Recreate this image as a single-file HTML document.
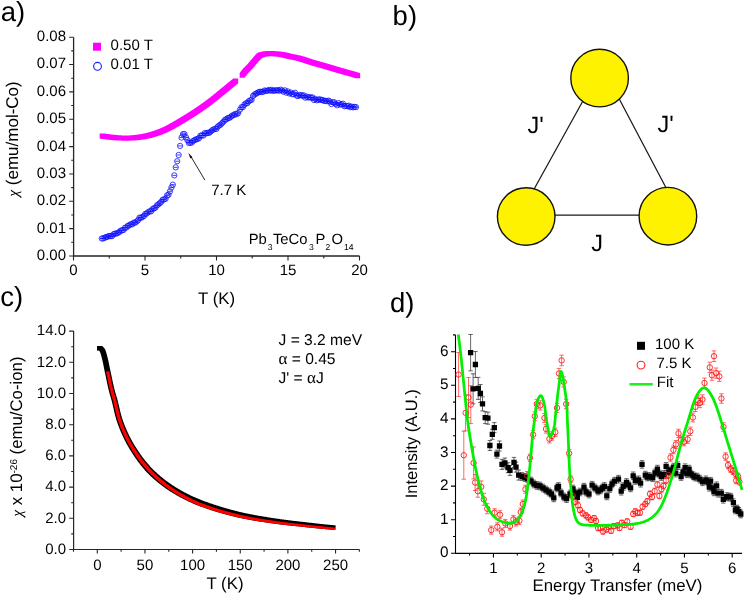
<!DOCTYPE html><html><head><meta charset="utf-8"><style>html,body{margin:0;padding:0;background:#fff;overflow:hidden}svg{display:block}text{font-family:"Liberation Sans",sans-serif;fill:#000;text-rendering:geometricPrecision}svg{will-change:transform}</style></head><body>
<svg width="744" height="596" viewBox="0 0 744 596">
<rect width="744" height="596" fill="#fff"/>
<text x="0.8" y="20.8" font-size="27.5">a)</text>
<text x="392.6" y="25" font-size="27.5">b)</text>
<text x="0.3" y="306.2" font-size="27.5">c)</text>
<text x="390" y="311.8" font-size="27.5">d)</text>
<path d="M73.6,37.2 V256 H359.5" fill="none" stroke="#262626" stroke-width="1.3"/>
<path d="M69.2,256.00H73.6M69.2,228.65H73.6M69.2,201.30H73.6M69.2,173.95H73.6M69.2,146.60H73.6M69.2,119.25H73.6M69.2,91.90H73.6M69.2,64.55H73.6M69.2,37.20H73.6M71.2,242.32H73.6M71.2,214.97H73.6M71.2,187.62H73.6M71.2,160.28H73.6M71.2,132.93H73.6M71.2,105.57H73.6M71.2,78.22H73.6M71.2,50.87H73.6M73.50,256V260.5M145.00,256V260.5M216.50,256V260.5M288.00,256V260.5M359.50,256V260.5M109.25,256V258.6M180.75,256V258.6M252.25,256V258.6M323.75,256V258.6" fill="none" stroke="#262626" stroke-width="1.1"/>
<text x="66" y="259.9" text-anchor="end" font-size="15">0.00</text>
<text x="66" y="232.6" text-anchor="end" font-size="15">0.01</text>
<text x="66" y="205.2" text-anchor="end" font-size="15">0.02</text>
<text x="66" y="177.8" text-anchor="end" font-size="15">0.03</text>
<text x="66" y="150.5" text-anchor="end" font-size="15">0.04</text>
<text x="66" y="123.2" text-anchor="end" font-size="15">0.05</text>
<text x="66" y="95.8" text-anchor="end" font-size="15">0.06</text>
<text x="66" y="68.4" text-anchor="end" font-size="15">0.07</text>
<text x="66" y="41.1" text-anchor="end" font-size="15">0.08</text>
<text x="73.5" y="275.3" text-anchor="middle" font-size="15">0</text>
<text x="145.0" y="275.3" text-anchor="middle" font-size="15">5</text>
<text x="216.5" y="275.3" text-anchor="middle" font-size="15">10</text>
<text x="288.0" y="275.3" text-anchor="middle" font-size="15">15</text>
<text x="359.5" y="275.3" text-anchor="middle" font-size="15">20</text>
<text x="216.6" y="304" text-anchor="middle" font-size="16.8">T (K)</text>
<text transform="translate(17.8,139) rotate(-90)" text-anchor="middle" font-size="17"><tspan font-family="Liberation Serif, serif" font-style="italic" font-size="15.5">χ</tspan> (emu/mol-Co)</text>
<rect x="93" y="42.7" width="8" height="8" fill="#ff00ff"/>
<circle cx="97.5" cy="66.3" r="3.9" fill="none" stroke="#1a1aff" stroke-width="1.1"/>
<text x="110.6" y="49.8" font-size="15">0.50 T</text>
<text x="110.6" y="69.3" font-size="15">0.01 T</text>
<text x="248.7" y="244.4" font-size="14.8">Pb<tspan font-size="8.6" dx="1.0" dy="5.2">3</tspan><tspan dx="0.3" dy="-5.2">TeCo</tspan><tspan font-size="8.6" dx="1.5" dy="5.2">3</tspan><tspan dx="1.7" dy="-5.2">P</tspan><tspan font-size="8.6" dx="0.1" dy="5.2">2</tspan><tspan dx="1.3" dy="-5.2">O</tspan><tspan font-size="8.6" dx="0.9" dy="5.2">14</tspan></text>
<path d="M204.9,180.1 L190.5,155.9" stroke="#111" stroke-width="0.9" fill="none"/>
<path d="M188.3,152.8 L192.5,157.2 L190.3,158.6 Z" fill="#111"/>
<text x="211.2" y="195.0" font-size="15">7.7 K</text>
<path d="M99.65,133.49h5.1v5.1h-5.1zM100.15,133.57h5.1v5.1h-5.1zM100.65,133.65h5.1v5.1h-5.1zM101.15,133.73h5.1v5.1h-5.1zM101.65,133.81h5.1v5.1h-5.1zM102.15,133.88h5.1v5.1h-5.1zM102.65,133.95h5.1v5.1h-5.1zM103.15,134.02h5.1v5.1h-5.1zM103.65,134.10h5.1v5.1h-5.1zM104.15,134.16h5.1v5.1h-5.1zM104.65,134.23h5.1v5.1h-5.1zM105.15,134.30h5.1v5.1h-5.1zM105.65,134.36h5.1v5.1h-5.1zM106.15,134.43h5.1v5.1h-5.1zM106.65,134.49h5.1v5.1h-5.1zM107.15,134.55h5.1v5.1h-5.1zM107.65,134.61h5.1v5.1h-5.1zM108.15,134.66h5.1v5.1h-5.1zM108.65,134.72h5.1v5.1h-5.1zM109.15,134.77h5.1v5.1h-5.1zM109.65,134.82h5.1v5.1h-5.1zM110.15,134.87h5.1v5.1h-5.1zM110.65,134.92h5.1v5.1h-5.1zM111.15,134.97h5.1v5.1h-5.1zM111.65,135.02h5.1v5.1h-5.1zM112.15,135.06h5.1v5.1h-5.1zM112.65,135.10h5.1v5.1h-5.1zM113.15,135.14h5.1v5.1h-5.1zM113.65,135.18h5.1v5.1h-5.1zM114.15,135.22h5.1v5.1h-5.1zM114.65,135.25h5.1v5.1h-5.1zM115.15,135.29h5.1v5.1h-5.1zM115.65,135.32h5.1v5.1h-5.1zM116.15,135.35h5.1v5.1h-5.1zM116.65,135.37h5.1v5.1h-5.1zM117.15,135.40h5.1v5.1h-5.1zM117.65,135.42h5.1v5.1h-5.1zM118.15,135.44h5.1v5.1h-5.1zM118.65,135.46h5.1v5.1h-5.1zM119.15,135.48h5.1v5.1h-5.1zM119.65,135.50h5.1v5.1h-5.1zM120.15,135.51h5.1v5.1h-5.1zM120.65,135.52h5.1v5.1h-5.1zM121.15,135.53h5.1v5.1h-5.1zM121.65,135.54h5.1v5.1h-5.1zM122.15,135.54h5.1v5.1h-5.1zM122.65,135.55h5.1v5.1h-5.1zM123.15,135.55h5.1v5.1h-5.1zM123.65,135.55h5.1v5.1h-5.1zM124.15,135.54h5.1v5.1h-5.1zM124.65,135.54h5.1v5.1h-5.1zM125.15,135.53h5.1v5.1h-5.1zM125.65,135.52h5.1v5.1h-5.1zM126.15,135.51h5.1v5.1h-5.1zM126.65,135.49h5.1v5.1h-5.1zM127.15,135.48h5.1v5.1h-5.1zM127.65,135.46h5.1v5.1h-5.1zM128.15,135.44h5.1v5.1h-5.1zM128.65,135.41h5.1v5.1h-5.1zM129.15,135.39h5.1v5.1h-5.1zM129.65,135.36h5.1v5.1h-5.1zM130.15,135.33h5.1v5.1h-5.1zM130.65,135.29h5.1v5.1h-5.1zM131.15,135.26h5.1v5.1h-5.1zM131.65,135.22h5.1v5.1h-5.1zM132.15,135.18h5.1v5.1h-5.1zM132.65,135.13h5.1v5.1h-5.1zM133.15,135.09h5.1v5.1h-5.1zM133.65,135.04h5.1v5.1h-5.1zM134.15,134.99h5.1v5.1h-5.1zM134.65,134.93h5.1v5.1h-5.1zM135.15,134.88h5.1v5.1h-5.1zM135.65,134.82h5.1v5.1h-5.1zM136.15,134.75h5.1v5.1h-5.1zM136.65,134.69h5.1v5.1h-5.1zM137.15,134.62h5.1v5.1h-5.1zM137.65,134.55h5.1v5.1h-5.1zM138.15,134.48h5.1v5.1h-5.1zM138.65,134.40h5.1v5.1h-5.1zM139.15,134.33h5.1v5.1h-5.1zM139.65,134.25h5.1v5.1h-5.1zM140.15,134.16h5.1v5.1h-5.1zM140.65,134.07h5.1v5.1h-5.1zM141.15,133.99h5.1v5.1h-5.1zM141.65,133.89h5.1v5.1h-5.1zM142.15,133.80h5.1v5.1h-5.1zM142.65,133.70h5.1v5.1h-5.1zM143.15,133.60h5.1v5.1h-5.1zM143.65,133.49h5.1v5.1h-5.1zM144.15,133.39h5.1v5.1h-5.1zM144.65,133.28h5.1v5.1h-5.1zM145.15,133.16h5.1v5.1h-5.1zM145.65,133.05h5.1v5.1h-5.1zM146.15,132.93h5.1v5.1h-5.1zM146.65,132.81h5.1v5.1h-5.1zM147.15,132.68h5.1v5.1h-5.1zM147.65,132.55h5.1v5.1h-5.1zM148.15,132.42h5.1v5.1h-5.1zM148.65,132.28h5.1v5.1h-5.1zM149.15,132.15h5.1v5.1h-5.1zM149.65,132.01h5.1v5.1h-5.1zM150.15,131.86h5.1v5.1h-5.1zM150.65,131.71h5.1v5.1h-5.1zM151.15,131.56h5.1v5.1h-5.1zM151.65,131.41h5.1v5.1h-5.1zM152.15,131.25h5.1v5.1h-5.1zM152.65,131.09h5.1v5.1h-5.1zM153.15,130.93h5.1v5.1h-5.1zM153.65,130.76h5.1v5.1h-5.1zM154.15,130.59h5.1v5.1h-5.1zM154.65,130.41h5.1v5.1h-5.1zM155.15,130.24h5.1v5.1h-5.1zM155.65,130.06h5.1v5.1h-5.1zM156.15,129.87h5.1v5.1h-5.1zM156.65,129.68h5.1v5.1h-5.1zM157.15,129.49h5.1v5.1h-5.1zM157.65,129.30h5.1v5.1h-5.1zM158.15,129.10h5.1v5.1h-5.1zM158.65,128.90h5.1v5.1h-5.1zM159.15,128.69h5.1v5.1h-5.1zM159.65,128.48h5.1v5.1h-5.1zM160.15,128.27h5.1v5.1h-5.1zM160.65,128.05h5.1v5.1h-5.1zM161.15,127.83h5.1v5.1h-5.1zM161.65,127.61h5.1v5.1h-5.1zM162.15,127.38h5.1v5.1h-5.1zM162.65,127.15h5.1v5.1h-5.1zM163.15,126.91h5.1v5.1h-5.1zM163.65,126.68h5.1v5.1h-5.1zM164.15,126.43h5.1v5.1h-5.1zM164.65,126.19h5.1v5.1h-5.1zM165.15,125.94h5.1v5.1h-5.1zM165.65,125.69h5.1v5.1h-5.1zM166.15,125.43h5.1v5.1h-5.1zM166.65,125.18h5.1v5.1h-5.1zM167.15,124.92h5.1v5.1h-5.1zM167.65,124.65h5.1v5.1h-5.1zM168.15,124.39h5.1v5.1h-5.1zM168.65,124.12h5.1v5.1h-5.1zM169.15,123.85h5.1v5.1h-5.1zM169.65,123.57h5.1v5.1h-5.1zM170.15,123.30h5.1v5.1h-5.1zM170.65,123.02h5.1v5.1h-5.1zM171.15,122.74h5.1v5.1h-5.1zM171.65,122.46h5.1v5.1h-5.1zM172.15,122.18h5.1v5.1h-5.1zM172.65,121.89h5.1v5.1h-5.1zM173.15,121.60h5.1v5.1h-5.1zM173.65,121.32h5.1v5.1h-5.1zM174.15,121.03h5.1v5.1h-5.1zM174.65,120.74h5.1v5.1h-5.1zM175.15,120.44h5.1v5.1h-5.1zM175.65,120.15h5.1v5.1h-5.1zM176.15,119.86h5.1v5.1h-5.1zM176.65,119.56h5.1v5.1h-5.1zM177.15,119.27h5.1v5.1h-5.1zM177.65,118.97h5.1v5.1h-5.1zM178.15,118.67h5.1v5.1h-5.1zM178.65,118.37h5.1v5.1h-5.1zM179.15,118.07h5.1v5.1h-5.1zM179.65,117.78h5.1v5.1h-5.1zM180.15,117.48h5.1v5.1h-5.1zM180.65,117.17h5.1v5.1h-5.1zM181.15,116.87h5.1v5.1h-5.1zM181.65,116.57h5.1v5.1h-5.1zM182.15,116.27h5.1v5.1h-5.1zM182.65,115.96h5.1v5.1h-5.1zM183.15,115.66h5.1v5.1h-5.1zM183.65,115.35h5.1v5.1h-5.1zM184.15,115.05h5.1v5.1h-5.1zM184.65,114.74h5.1v5.1h-5.1zM185.15,114.43h5.1v5.1h-5.1zM185.65,114.12h5.1v5.1h-5.1zM186.15,113.81h5.1v5.1h-5.1zM186.65,113.50h5.1v5.1h-5.1zM187.15,113.18h5.1v5.1h-5.1zM187.65,112.87h5.1v5.1h-5.1zM188.15,112.55h5.1v5.1h-5.1zM188.65,112.24h5.1v5.1h-5.1zM189.15,111.92h5.1v5.1h-5.1zM189.65,111.60h5.1v5.1h-5.1zM190.15,111.28h5.1v5.1h-5.1zM190.65,110.96h5.1v5.1h-5.1zM191.15,110.63h5.1v5.1h-5.1zM191.65,110.31h5.1v5.1h-5.1zM192.15,109.98h5.1v5.1h-5.1zM192.65,109.66h5.1v5.1h-5.1zM193.15,109.33h5.1v5.1h-5.1zM193.65,109.00h5.1v5.1h-5.1zM194.15,108.67h5.1v5.1h-5.1zM194.65,108.33h5.1v5.1h-5.1zM195.15,108.00h5.1v5.1h-5.1zM195.65,107.66h5.1v5.1h-5.1zM196.15,107.33h5.1v5.1h-5.1zM196.65,106.99h5.1v5.1h-5.1zM197.15,106.65h5.1v5.1h-5.1zM197.65,106.30h5.1v5.1h-5.1zM198.15,105.96h5.1v5.1h-5.1zM198.65,105.61h5.1v5.1h-5.1zM199.15,105.26h5.1v5.1h-5.1zM199.65,104.92h5.1v5.1h-5.1zM200.15,104.56h5.1v5.1h-5.1zM200.65,104.21h5.1v5.1h-5.1zM201.15,103.86h5.1v5.1h-5.1zM201.65,103.50h5.1v5.1h-5.1zM202.15,103.14h5.1v5.1h-5.1zM202.65,102.78h5.1v5.1h-5.1zM203.15,102.42h5.1v5.1h-5.1zM203.65,102.05h5.1v5.1h-5.1zM204.15,101.69h5.1v5.1h-5.1zM204.65,101.32h5.1v5.1h-5.1zM205.15,100.95h5.1v5.1h-5.1zM205.65,100.57h5.1v5.1h-5.1zM206.15,100.20h5.1v5.1h-5.1zM206.65,99.82h5.1v5.1h-5.1zM207.15,99.44h5.1v5.1h-5.1zM207.65,99.06h5.1v5.1h-5.1zM208.15,98.68h5.1v5.1h-5.1zM208.65,98.29h5.1v5.1h-5.1zM209.15,97.91h5.1v5.1h-5.1zM209.65,97.52h5.1v5.1h-5.1zM210.15,97.13h5.1v5.1h-5.1zM210.65,96.73h5.1v5.1h-5.1zM211.15,96.34h5.1v5.1h-5.1zM211.65,95.94h5.1v5.1h-5.1zM212.15,95.54h5.1v5.1h-5.1zM212.65,95.14h5.1v5.1h-5.1zM213.15,94.74h5.1v5.1h-5.1zM213.65,94.34h5.1v5.1h-5.1zM214.15,93.94h5.1v5.1h-5.1zM214.65,93.53h5.1v5.1h-5.1zM215.15,93.13h5.1v5.1h-5.1zM215.65,92.72h5.1v5.1h-5.1zM216.15,92.31h5.1v5.1h-5.1zM216.65,91.90h5.1v5.1h-5.1zM217.15,91.50h5.1v5.1h-5.1zM217.65,91.09h5.1v5.1h-5.1zM218.15,90.68h5.1v5.1h-5.1zM218.65,90.26h5.1v5.1h-5.1zM219.15,89.85h5.1v5.1h-5.1zM219.65,89.44h5.1v5.1h-5.1zM220.15,89.03h5.1v5.1h-5.1zM220.65,88.62h5.1v5.1h-5.1zM221.15,88.21h5.1v5.1h-5.1zM221.65,87.79h5.1v5.1h-5.1zM222.15,87.38h5.1v5.1h-5.1zM222.65,86.97h5.1v5.1h-5.1zM223.15,86.56h5.1v5.1h-5.1zM223.65,86.14h5.1v5.1h-5.1zM224.15,85.73h5.1v5.1h-5.1zM224.65,85.32h5.1v5.1h-5.1zM225.15,84.91h5.1v5.1h-5.1zM225.65,84.50h5.1v5.1h-5.1zM226.15,84.09h5.1v5.1h-5.1zM226.65,83.68h5.1v5.1h-5.1zM227.15,83.28h5.1v5.1h-5.1zM227.65,82.87h5.1v5.1h-5.1zM228.15,82.46h5.1v5.1h-5.1zM228.65,82.06h5.1v5.1h-5.1zM229.15,81.66h5.1v5.1h-5.1zM229.65,81.25h5.1v5.1h-5.1zM230.15,80.85h5.1v5.1h-5.1zM230.65,80.45h5.1v5.1h-5.1zM231.15,80.05h5.1v5.1h-5.1zM231.65,79.66h5.1v5.1h-5.1zM232.15,79.26h5.1v5.1h-5.1zM232.65,78.87h5.1v5.1h-5.1zM233.05,78.55h5.1v5.1h-5.1z" fill="#ff00ff"/>
<path d="M239.65,72.75h5.1v5.1h-5.1zM240.15,72.04h5.1v5.1h-5.1zM240.65,71.35h5.1v5.1h-5.1zM241.15,70.68h5.1v5.1h-5.1zM241.65,70.03h5.1v5.1h-5.1zM242.15,69.41h5.1v5.1h-5.1zM242.65,68.82h5.1v5.1h-5.1zM243.15,68.26h5.1v5.1h-5.1zM243.65,67.72h5.1v5.1h-5.1zM244.15,67.21h5.1v5.1h-5.1zM244.65,66.70h5.1v5.1h-5.1zM245.15,66.21h5.1v5.1h-5.1zM245.65,65.71h5.1v5.1h-5.1zM246.15,65.21h5.1v5.1h-5.1zM246.65,64.70h5.1v5.1h-5.1zM247.15,64.18h5.1v5.1h-5.1zM247.65,63.63h5.1v5.1h-5.1zM248.15,63.06h5.1v5.1h-5.1zM248.65,62.48h5.1v5.1h-5.1zM249.15,61.89h5.1v5.1h-5.1zM249.65,61.29h5.1v5.1h-5.1zM250.15,60.69h5.1v5.1h-5.1zM250.65,60.09h5.1v5.1h-5.1zM251.15,59.48h5.1v5.1h-5.1zM251.65,58.89h5.1v5.1h-5.1zM252.15,58.30h5.1v5.1h-5.1zM252.65,57.72h5.1v5.1h-5.1zM253.15,57.13h5.1v5.1h-5.1zM253.65,56.53h5.1v5.1h-5.1zM254.15,55.95h5.1v5.1h-5.1zM254.65,55.38h5.1v5.1h-5.1zM255.15,54.85h5.1v5.1h-5.1zM255.65,54.35h5.1v5.1h-5.1zM256.15,53.86h5.1v5.1h-5.1zM256.65,53.39h5.1v5.1h-5.1zM257.15,53.01h5.1v5.1h-5.1zM257.65,52.76h5.1v5.1h-5.1zM258.15,52.55h5.1v5.1h-5.1zM258.65,52.36h5.1v5.1h-5.1zM259.15,52.19h5.1v5.1h-5.1zM259.65,52.03h5.1v5.1h-5.1zM260.15,51.89h5.1v5.1h-5.1zM260.65,51.77h5.1v5.1h-5.1zM261.15,51.66h5.1v5.1h-5.1zM261.65,51.57h5.1v5.1h-5.1zM262.15,51.49h5.1v5.1h-5.1zM262.65,51.43h5.1v5.1h-5.1zM263.15,51.36h5.1v5.1h-5.1zM263.65,51.31h5.1v5.1h-5.1zM264.15,51.25h5.1v5.1h-5.1zM264.65,51.20h5.1v5.1h-5.1zM265.15,51.15h5.1v5.1h-5.1zM265.65,51.12h5.1v5.1h-5.1zM266.15,51.09h5.1v5.1h-5.1zM266.65,51.06h5.1v5.1h-5.1zM267.15,51.05h5.1v5.1h-5.1zM267.65,51.05h5.1v5.1h-5.1zM268.15,51.06h5.1v5.1h-5.1zM268.65,51.06h5.1v5.1h-5.1zM269.15,51.08h5.1v5.1h-5.1zM269.65,51.10h5.1v5.1h-5.1zM270.15,51.12h5.1v5.1h-5.1zM270.65,51.15h5.1v5.1h-5.1zM271.15,51.18h5.1v5.1h-5.1zM271.65,51.21h5.1v5.1h-5.1zM272.15,51.25h5.1v5.1h-5.1zM272.65,51.28h5.1v5.1h-5.1zM273.15,51.33h5.1v5.1h-5.1zM273.65,51.37h5.1v5.1h-5.1zM274.15,51.42h5.1v5.1h-5.1zM274.65,51.46h5.1v5.1h-5.1zM275.15,51.51h5.1v5.1h-5.1zM275.65,51.56h5.1v5.1h-5.1zM276.15,51.61h5.1v5.1h-5.1zM276.65,51.67h5.1v5.1h-5.1zM277.15,51.72h5.1v5.1h-5.1zM277.65,51.77h5.1v5.1h-5.1zM278.15,51.83h5.1v5.1h-5.1zM278.65,51.90h5.1v5.1h-5.1zM279.15,51.98h5.1v5.1h-5.1zM279.65,52.07h5.1v5.1h-5.1zM280.15,52.16h5.1v5.1h-5.1zM280.65,52.26h5.1v5.1h-5.1zM281.15,52.37h5.1v5.1h-5.1zM281.65,52.48h5.1v5.1h-5.1zM282.15,52.59h5.1v5.1h-5.1zM282.65,52.71h5.1v5.1h-5.1zM283.15,52.83h5.1v5.1h-5.1zM283.65,52.95h5.1v5.1h-5.1zM284.15,53.07h5.1v5.1h-5.1zM284.65,53.20h5.1v5.1h-5.1zM285.15,53.32h5.1v5.1h-5.1zM285.65,53.44h5.1v5.1h-5.1zM286.15,53.56h5.1v5.1h-5.1zM286.65,53.67h5.1v5.1h-5.1zM287.15,53.78h5.1v5.1h-5.1zM287.65,53.89h5.1v5.1h-5.1zM288.15,54.00h5.1v5.1h-5.1zM288.65,54.10h5.1v5.1h-5.1zM289.15,54.21h5.1v5.1h-5.1zM289.65,54.31h5.1v5.1h-5.1zM290.15,54.41h5.1v5.1h-5.1zM290.65,54.52h5.1v5.1h-5.1zM291.15,54.62h5.1v5.1h-5.1zM291.65,54.73h5.1v5.1h-5.1zM292.15,54.83h5.1v5.1h-5.1zM292.65,54.93h5.1v5.1h-5.1zM293.15,55.04h5.1v5.1h-5.1zM293.65,55.15h5.1v5.1h-5.1zM294.15,55.26h5.1v5.1h-5.1zM294.65,55.37h5.1v5.1h-5.1zM295.15,55.49h5.1v5.1h-5.1zM295.65,55.60h5.1v5.1h-5.1zM296.15,55.72h5.1v5.1h-5.1zM296.65,55.85h5.1v5.1h-5.1zM297.15,55.97h5.1v5.1h-5.1zM297.65,56.10h5.1v5.1h-5.1zM298.15,56.24h5.1v5.1h-5.1zM298.65,56.38h5.1v5.1h-5.1zM299.15,56.53h5.1v5.1h-5.1zM299.65,56.68h5.1v5.1h-5.1zM300.15,56.84h5.1v5.1h-5.1zM300.65,57.00h5.1v5.1h-5.1zM301.15,57.16h5.1v5.1h-5.1zM301.65,57.33h5.1v5.1h-5.1zM302.15,57.49h5.1v5.1h-5.1zM302.65,57.66h5.1v5.1h-5.1zM303.15,57.83h5.1v5.1h-5.1zM303.65,58.00h5.1v5.1h-5.1zM304.15,58.17h5.1v5.1h-5.1zM304.65,58.34h5.1v5.1h-5.1zM305.15,58.51h5.1v5.1h-5.1zM305.65,58.68h5.1v5.1h-5.1zM306.15,58.84h5.1v5.1h-5.1zM306.65,59.00h5.1v5.1h-5.1zM307.15,59.16h5.1v5.1h-5.1zM307.65,59.31h5.1v5.1h-5.1zM308.15,59.46h5.1v5.1h-5.1zM308.65,59.61h5.1v5.1h-5.1zM309.15,59.76h5.1v5.1h-5.1zM309.65,59.91h5.1v5.1h-5.1zM310.15,60.06h5.1v5.1h-5.1zM310.65,60.20h5.1v5.1h-5.1zM311.15,60.35h5.1v5.1h-5.1zM311.65,60.49h5.1v5.1h-5.1zM312.15,60.64h5.1v5.1h-5.1zM312.65,60.78h5.1v5.1h-5.1zM313.15,60.93h5.1v5.1h-5.1zM313.65,61.07h5.1v5.1h-5.1zM314.15,61.21h5.1v5.1h-5.1zM314.65,61.35h5.1v5.1h-5.1zM315.15,61.50h5.1v5.1h-5.1zM315.65,61.64h5.1v5.1h-5.1zM316.15,61.78h5.1v5.1h-5.1zM316.65,61.92h5.1v5.1h-5.1zM317.15,62.06h5.1v5.1h-5.1zM317.65,62.21h5.1v5.1h-5.1zM318.15,62.35h5.1v5.1h-5.1zM318.65,62.49h5.1v5.1h-5.1zM319.15,62.63h5.1v5.1h-5.1zM319.65,62.76h5.1v5.1h-5.1zM320.15,62.90h5.1v5.1h-5.1zM320.65,63.04h5.1v5.1h-5.1zM321.15,63.18h5.1v5.1h-5.1zM321.65,63.32h5.1v5.1h-5.1zM322.15,63.46h5.1v5.1h-5.1zM322.65,63.61h5.1v5.1h-5.1zM323.15,63.75h5.1v5.1h-5.1zM323.65,63.90h5.1v5.1h-5.1zM324.15,64.05h5.1v5.1h-5.1zM324.65,64.20h5.1v5.1h-5.1zM325.15,64.35h5.1v5.1h-5.1zM325.65,64.50h5.1v5.1h-5.1zM326.15,64.65h5.1v5.1h-5.1zM326.65,64.80h5.1v5.1h-5.1zM327.15,64.95h5.1v5.1h-5.1zM327.65,65.10h5.1v5.1h-5.1zM328.15,65.26h5.1v5.1h-5.1zM328.65,65.41h5.1v5.1h-5.1zM329.15,65.56h5.1v5.1h-5.1zM329.65,65.71h5.1v5.1h-5.1zM330.15,65.86h5.1v5.1h-5.1zM330.65,66.01h5.1v5.1h-5.1zM331.15,66.16h5.1v5.1h-5.1zM331.65,66.31h5.1v5.1h-5.1zM332.15,66.46h5.1v5.1h-5.1zM332.65,66.61h5.1v5.1h-5.1zM333.15,66.76h5.1v5.1h-5.1zM333.65,66.90h5.1v5.1h-5.1zM334.15,67.05h5.1v5.1h-5.1zM334.65,67.20h5.1v5.1h-5.1zM335.15,67.34h5.1v5.1h-5.1zM335.65,67.49h5.1v5.1h-5.1zM336.15,67.63h5.1v5.1h-5.1zM336.65,67.78h5.1v5.1h-5.1zM337.15,67.93h5.1v5.1h-5.1zM337.65,68.07h5.1v5.1h-5.1zM338.15,68.22h5.1v5.1h-5.1zM338.65,68.36h5.1v5.1h-5.1zM339.15,68.50h5.1v5.1h-5.1zM339.65,68.65h5.1v5.1h-5.1zM340.15,68.79h5.1v5.1h-5.1zM340.65,68.94h5.1v5.1h-5.1zM341.15,69.08h5.1v5.1h-5.1zM341.65,69.22h5.1v5.1h-5.1zM342.15,69.36h5.1v5.1h-5.1zM342.65,69.51h5.1v5.1h-5.1zM343.15,69.65h5.1v5.1h-5.1zM343.65,69.79h5.1v5.1h-5.1zM344.15,69.92h5.1v5.1h-5.1zM344.65,70.06h5.1v5.1h-5.1zM345.15,70.19h5.1v5.1h-5.1zM345.65,70.33h5.1v5.1h-5.1zM346.15,70.46h5.1v5.1h-5.1zM346.65,70.60h5.1v5.1h-5.1zM347.15,70.73h5.1v5.1h-5.1zM347.65,70.87h5.1v5.1h-5.1zM348.15,71.00h5.1v5.1h-5.1zM348.65,71.14h5.1v5.1h-5.1zM349.15,71.28h5.1v5.1h-5.1zM349.65,71.42h5.1v5.1h-5.1zM350.15,71.56h5.1v5.1h-5.1zM350.65,71.70h5.1v5.1h-5.1zM351.15,71.85h5.1v5.1h-5.1zM351.65,72.00h5.1v5.1h-5.1zM352.15,72.16h5.1v5.1h-5.1zM352.65,72.31h5.1v5.1h-5.1zM353.15,72.48h5.1v5.1h-5.1zM353.65,72.65h5.1v5.1h-5.1zM354.15,72.83h5.1v5.1h-5.1zM354.65,73.01h5.1v5.1h-5.1zM355.05,73.15h5.1v5.1h-5.1z" fill="#ff00ff"/>
<path d="M99.15,238.50a2.65,2.65 0 1 0 5.3,0a2.65,2.65 0 1 0 -5.3,0M99.75,238.50h4.10M100.60,238.44a2.65,2.65 0 1 0 5.3,0a2.65,2.65 0 1 0 -5.3,0M101.20,238.44h4.10M102.05,237.75a2.65,2.65 0 1 0 5.3,0a2.65,2.65 0 1 0 -5.3,0M102.65,237.75h4.10M103.50,236.98a2.65,2.65 0 1 0 5.3,0a2.65,2.65 0 1 0 -5.3,0M104.10,236.98h4.10M104.95,236.81a2.65,2.65 0 1 0 5.3,0a2.65,2.65 0 1 0 -5.3,0M105.55,236.81h4.10M106.40,235.93a2.65,2.65 0 1 0 5.3,0a2.65,2.65 0 1 0 -5.3,0M107.00,235.93h4.10M107.85,236.04a2.65,2.65 0 1 0 5.3,0a2.65,2.65 0 1 0 -5.3,0M108.45,236.04h4.10M109.30,236.22a2.65,2.65 0 1 0 5.3,0a2.65,2.65 0 1 0 -5.3,0M109.90,236.22h4.10M110.75,234.34a2.65,2.65 0 1 0 5.3,0a2.65,2.65 0 1 0 -5.3,0M111.35,234.34h4.10M112.20,233.57a2.65,2.65 0 1 0 5.3,0a2.65,2.65 0 1 0 -5.3,0M112.80,233.57h4.10M113.65,233.64a2.65,2.65 0 1 0 5.3,0a2.65,2.65 0 1 0 -5.3,0M114.25,233.64h4.10M115.10,232.91a2.65,2.65 0 1 0 5.3,0a2.65,2.65 0 1 0 -5.3,0M115.70,232.91h4.10M116.55,232.07a2.65,2.65 0 1 0 5.3,0a2.65,2.65 0 1 0 -5.3,0M117.15,232.07h4.10M118.00,230.64a2.65,2.65 0 1 0 5.3,0a2.65,2.65 0 1 0 -5.3,0M118.60,230.64h4.10M119.45,230.37a2.65,2.65 0 1 0 5.3,0a2.65,2.65 0 1 0 -5.3,0M120.05,230.37h4.10M120.90,229.93a2.65,2.65 0 1 0 5.3,0a2.65,2.65 0 1 0 -5.3,0M121.50,229.93h4.10M122.35,227.73a2.65,2.65 0 1 0 5.3,0a2.65,2.65 0 1 0 -5.3,0M122.95,227.73h4.10M123.80,227.49a2.65,2.65 0 1 0 5.3,0a2.65,2.65 0 1 0 -5.3,0M124.40,227.49h4.10M125.25,225.75a2.65,2.65 0 1 0 5.3,0a2.65,2.65 0 1 0 -5.3,0M125.85,225.75h4.10M126.70,225.34a2.65,2.65 0 1 0 5.3,0a2.65,2.65 0 1 0 -5.3,0M127.30,225.34h4.10M128.15,224.13a2.65,2.65 0 1 0 5.3,0a2.65,2.65 0 1 0 -5.3,0M128.75,224.13h4.10M129.60,224.28a2.65,2.65 0 1 0 5.3,0a2.65,2.65 0 1 0 -5.3,0M130.20,224.28h4.10M131.05,222.68a2.65,2.65 0 1 0 5.3,0a2.65,2.65 0 1 0 -5.3,0M131.65,222.68h4.10M132.50,222.68a2.65,2.65 0 1 0 5.3,0a2.65,2.65 0 1 0 -5.3,0M133.10,222.68h4.10M133.95,221.56a2.65,2.65 0 1 0 5.3,0a2.65,2.65 0 1 0 -5.3,0M134.55,221.56h4.10M135.40,220.25a2.65,2.65 0 1 0 5.3,0a2.65,2.65 0 1 0 -5.3,0M136.00,220.25h4.10M136.85,217.64a2.65,2.65 0 1 0 5.3,0a2.65,2.65 0 1 0 -5.3,0M137.45,217.64h4.10M138.30,217.83a2.65,2.65 0 1 0 5.3,0a2.65,2.65 0 1 0 -5.3,0M138.90,217.83h4.10M139.75,217.04a2.65,2.65 0 1 0 5.3,0a2.65,2.65 0 1 0 -5.3,0M140.35,217.04h4.10M141.20,216.04a2.65,2.65 0 1 0 5.3,0a2.65,2.65 0 1 0 -5.3,0M141.80,216.04h4.10M142.65,213.88a2.65,2.65 0 1 0 5.3,0a2.65,2.65 0 1 0 -5.3,0M143.25,213.88h4.10M144.10,213.53a2.65,2.65 0 1 0 5.3,0a2.65,2.65 0 1 0 -5.3,0M144.70,213.53h4.10M145.55,212.18a2.65,2.65 0 1 0 5.3,0a2.65,2.65 0 1 0 -5.3,0M146.15,212.18h4.10M147.00,211.24a2.65,2.65 0 1 0 5.3,0a2.65,2.65 0 1 0 -5.3,0M147.60,211.24h4.10M148.45,211.35a2.65,2.65 0 1 0 5.3,0a2.65,2.65 0 1 0 -5.3,0M149.05,211.35h4.10M149.90,209.00a2.65,2.65 0 1 0 5.3,0a2.65,2.65 0 1 0 -5.3,0M150.50,209.00h4.10M151.35,208.32a2.65,2.65 0 1 0 5.3,0a2.65,2.65 0 1 0 -5.3,0M151.95,208.32h4.10M152.80,207.68a2.65,2.65 0 1 0 5.3,0a2.65,2.65 0 1 0 -5.3,0M153.40,207.68h4.10M154.25,205.41a2.65,2.65 0 1 0 5.3,0a2.65,2.65 0 1 0 -5.3,0M154.85,205.41h4.10M155.70,204.35a2.65,2.65 0 1 0 5.3,0a2.65,2.65 0 1 0 -5.3,0M156.30,204.35h4.10M157.15,203.15a2.65,2.65 0 1 0 5.3,0a2.65,2.65 0 1 0 -5.3,0M157.75,203.15h4.10M158.60,201.86a2.65,2.65 0 1 0 5.3,0a2.65,2.65 0 1 0 -5.3,0M159.20,201.86h4.10M160.05,199.80a2.65,2.65 0 1 0 5.3,0a2.65,2.65 0 1 0 -5.3,0M160.65,199.80h4.10M161.50,199.37a2.65,2.65 0 1 0 5.3,0a2.65,2.65 0 1 0 -5.3,0M162.10,199.37h4.10M162.95,198.79a2.65,2.65 0 1 0 5.3,0a2.65,2.65 0 1 0 -5.3,0M163.55,198.79h4.10M164.40,195.35a2.65,2.65 0 1 0 5.3,0a2.65,2.65 0 1 0 -5.3,0M165.00,195.35h4.10M165.85,194.84a2.65,2.65 0 1 0 5.3,0a2.65,2.65 0 1 0 -5.3,0M166.45,194.84h4.10M167.30,191.34a2.65,2.65 0 1 0 5.3,0a2.65,2.65 0 1 0 -5.3,0M167.90,191.34h4.10M168.75,187.54a2.65,2.65 0 1 0 5.3,0a2.65,2.65 0 1 0 -5.3,0M169.35,187.54h4.10M170.20,184.68a2.65,2.65 0 1 0 5.3,0a2.65,2.65 0 1 0 -5.3,0M170.80,184.68h4.10M171.65,175.38a2.65,2.65 0 1 0 5.3,0a2.65,2.65 0 1 0 -5.3,0M172.25,175.38h4.10M173.10,167.35a2.65,2.65 0 1 0 5.3,0a2.65,2.65 0 1 0 -5.3,0M173.70,167.35h4.10M174.55,161.24a2.65,2.65 0 1 0 5.3,0a2.65,2.65 0 1 0 -5.3,0M175.15,161.24h4.10M176.00,154.97a2.65,2.65 0 1 0 5.3,0a2.65,2.65 0 1 0 -5.3,0M176.60,154.97h4.10M177.45,145.91a2.65,2.65 0 1 0 5.3,0a2.65,2.65 0 1 0 -5.3,0M178.05,145.91h4.10M178.90,137.59a2.65,2.65 0 1 0 5.3,0a2.65,2.65 0 1 0 -5.3,0M179.50,137.59h4.10M180.35,134.12a2.65,2.65 0 1 0 5.3,0a2.65,2.65 0 1 0 -5.3,0M180.95,134.12h4.10M181.80,134.02a2.65,2.65 0 1 0 5.3,0a2.65,2.65 0 1 0 -5.3,0M182.40,134.02h4.10M183.25,137.29a2.65,2.65 0 1 0 5.3,0a2.65,2.65 0 1 0 -5.3,0M183.85,137.29h4.10M184.70,140.07a2.65,2.65 0 1 0 5.3,0a2.65,2.65 0 1 0 -5.3,0M185.30,140.07h4.10M186.15,142.93a2.65,2.65 0 1 0 5.3,0a2.65,2.65 0 1 0 -5.3,0M186.75,142.93h4.10M187.60,142.79a2.65,2.65 0 1 0 5.3,0a2.65,2.65 0 1 0 -5.3,0M188.20,142.79h4.10M189.05,142.58a2.65,2.65 0 1 0 5.3,0a2.65,2.65 0 1 0 -5.3,0M189.65,142.58h4.10M190.50,140.90a2.65,2.65 0 1 0 5.3,0a2.65,2.65 0 1 0 -5.3,0M191.10,140.90h4.10M191.95,140.12a2.65,2.65 0 1 0 5.3,0a2.65,2.65 0 1 0 -5.3,0M192.55,140.12h4.10M193.40,139.32a2.65,2.65 0 1 0 5.3,0a2.65,2.65 0 1 0 -5.3,0M194.00,139.32h4.10M194.85,139.00a2.65,2.65 0 1 0 5.3,0a2.65,2.65 0 1 0 -5.3,0M195.45,139.00h4.10M196.30,138.18a2.65,2.65 0 1 0 5.3,0a2.65,2.65 0 1 0 -5.3,0M196.90,138.18h4.10M197.75,135.71a2.65,2.65 0 1 0 5.3,0a2.65,2.65 0 1 0 -5.3,0M198.35,135.71h4.10M199.20,135.31a2.65,2.65 0 1 0 5.3,0a2.65,2.65 0 1 0 -5.3,0M199.80,135.31h4.10M200.65,135.56a2.65,2.65 0 1 0 5.3,0a2.65,2.65 0 1 0 -5.3,0M201.25,135.56h4.10M202.10,133.13a2.65,2.65 0 1 0 5.3,0a2.65,2.65 0 1 0 -5.3,0M202.70,133.13h4.10M203.55,133.37a2.65,2.65 0 1 0 5.3,0a2.65,2.65 0 1 0 -5.3,0M204.15,133.37h4.10M205.00,132.82a2.65,2.65 0 1 0 5.3,0a2.65,2.65 0 1 0 -5.3,0M205.60,132.82h4.10M206.45,132.91a2.65,2.65 0 1 0 5.3,0a2.65,2.65 0 1 0 -5.3,0M207.05,132.91h4.10M207.90,131.76a2.65,2.65 0 1 0 5.3,0a2.65,2.65 0 1 0 -5.3,0M208.50,131.76h4.10M209.35,130.35a2.65,2.65 0 1 0 5.3,0a2.65,2.65 0 1 0 -5.3,0M209.95,130.35h4.10M210.80,129.57a2.65,2.65 0 1 0 5.3,0a2.65,2.65 0 1 0 -5.3,0M211.40,129.57h4.10M212.25,128.80a2.65,2.65 0 1 0 5.3,0a2.65,2.65 0 1 0 -5.3,0M212.85,128.80h4.10M213.70,128.95a2.65,2.65 0 1 0 5.3,0a2.65,2.65 0 1 0 -5.3,0M214.30,128.95h4.10M215.15,126.55a2.65,2.65 0 1 0 5.3,0a2.65,2.65 0 1 0 -5.3,0M215.75,126.55h4.10M216.60,125.43a2.65,2.65 0 1 0 5.3,0a2.65,2.65 0 1 0 -5.3,0M217.20,125.43h4.10M218.05,124.63a2.65,2.65 0 1 0 5.3,0a2.65,2.65 0 1 0 -5.3,0M218.65,124.63h4.10M219.50,122.99a2.65,2.65 0 1 0 5.3,0a2.65,2.65 0 1 0 -5.3,0M220.10,122.99h4.10M220.95,121.59a2.65,2.65 0 1 0 5.3,0a2.65,2.65 0 1 0 -5.3,0M221.55,121.59h4.10M222.40,119.74a2.65,2.65 0 1 0 5.3,0a2.65,2.65 0 1 0 -5.3,0M223.00,119.74h4.10M223.85,119.29a2.65,2.65 0 1 0 5.3,0a2.65,2.65 0 1 0 -5.3,0M224.45,119.29h4.10M225.30,117.90a2.65,2.65 0 1 0 5.3,0a2.65,2.65 0 1 0 -5.3,0M225.90,117.90h4.10M226.75,117.94a2.65,2.65 0 1 0 5.3,0a2.65,2.65 0 1 0 -5.3,0M227.35,117.94h4.10M228.20,116.72a2.65,2.65 0 1 0 5.3,0a2.65,2.65 0 1 0 -5.3,0M228.80,116.72h4.10M229.65,115.46a2.65,2.65 0 1 0 5.3,0a2.65,2.65 0 1 0 -5.3,0M230.25,115.46h4.10M231.10,115.18a2.65,2.65 0 1 0 5.3,0a2.65,2.65 0 1 0 -5.3,0M231.70,115.18h4.10M232.55,113.90a2.65,2.65 0 1 0 5.3,0a2.65,2.65 0 1 0 -5.3,0M233.15,113.90h4.10M234.00,114.26a2.65,2.65 0 1 0 5.3,0a2.65,2.65 0 1 0 -5.3,0M234.60,114.26h4.10M235.45,113.11a2.65,2.65 0 1 0 5.3,0a2.65,2.65 0 1 0 -5.3,0M236.05,113.11h4.10M237.35,109.68a2.65,2.65 0 1 0 5.3,0a2.65,2.65 0 1 0 -5.3,0M237.95,109.68h4.10M238.80,107.24a2.65,2.65 0 1 0 5.3,0a2.65,2.65 0 1 0 -5.3,0M239.40,107.24h4.10M240.25,107.11a2.65,2.65 0 1 0 5.3,0a2.65,2.65 0 1 0 -5.3,0M240.85,107.11h4.10M241.70,104.65a2.65,2.65 0 1 0 5.3,0a2.65,2.65 0 1 0 -5.3,0M242.30,104.65h4.10M243.15,103.30a2.65,2.65 0 1 0 5.3,0a2.65,2.65 0 1 0 -5.3,0M243.75,103.30h4.10M244.60,103.17a2.65,2.65 0 1 0 5.3,0a2.65,2.65 0 1 0 -5.3,0M245.20,103.17h4.10M246.05,101.28a2.65,2.65 0 1 0 5.3,0a2.65,2.65 0 1 0 -5.3,0M246.65,101.28h4.10M247.50,100.33a2.65,2.65 0 1 0 5.3,0a2.65,2.65 0 1 0 -5.3,0M248.10,100.33h4.10M248.95,99.88a2.65,2.65 0 1 0 5.3,0a2.65,2.65 0 1 0 -5.3,0M249.55,99.88h4.10M250.40,96.03a2.65,2.65 0 1 0 5.3,0a2.65,2.65 0 1 0 -5.3,0M251.00,96.03h4.10M251.85,94.57a2.65,2.65 0 1 0 5.3,0a2.65,2.65 0 1 0 -5.3,0M252.45,94.57h4.10M253.30,93.65a2.65,2.65 0 1 0 5.3,0a2.65,2.65 0 1 0 -5.3,0M253.90,93.65h4.10M254.75,92.95a2.65,2.65 0 1 0 5.3,0a2.65,2.65 0 1 0 -5.3,0M255.35,92.95h4.10M256.20,92.05a2.65,2.65 0 1 0 5.3,0a2.65,2.65 0 1 0 -5.3,0M256.80,92.05h4.10M257.65,91.70a2.65,2.65 0 1 0 5.3,0a2.65,2.65 0 1 0 -5.3,0M258.25,91.70h4.10M259.10,92.03a2.65,2.65 0 1 0 5.3,0a2.65,2.65 0 1 0 -5.3,0M259.70,92.03h4.10M260.55,91.69a2.65,2.65 0 1 0 5.3,0a2.65,2.65 0 1 0 -5.3,0M261.15,91.69h4.10M262.00,90.48a2.65,2.65 0 1 0 5.3,0a2.65,2.65 0 1 0 -5.3,0M262.60,90.48h4.10M263.45,90.89a2.65,2.65 0 1 0 5.3,0a2.65,2.65 0 1 0 -5.3,0M264.05,90.89h4.10M264.90,90.77a2.65,2.65 0 1 0 5.3,0a2.65,2.65 0 1 0 -5.3,0M265.50,90.77h4.10M266.35,89.89a2.65,2.65 0 1 0 5.3,0a2.65,2.65 0 1 0 -5.3,0M266.95,89.89h4.10M267.80,90.64a2.65,2.65 0 1 0 5.3,0a2.65,2.65 0 1 0 -5.3,0M268.40,90.64h4.10M269.25,89.83a2.65,2.65 0 1 0 5.3,0a2.65,2.65 0 1 0 -5.3,0M269.85,89.83h4.10M270.70,90.96a2.65,2.65 0 1 0 5.3,0a2.65,2.65 0 1 0 -5.3,0M271.30,90.96h4.10M272.15,90.43a2.65,2.65 0 1 0 5.3,0a2.65,2.65 0 1 0 -5.3,0M272.75,90.43h4.10M273.60,90.42a2.65,2.65 0 1 0 5.3,0a2.65,2.65 0 1 0 -5.3,0M274.20,90.42h4.10M275.05,90.16a2.65,2.65 0 1 0 5.3,0a2.65,2.65 0 1 0 -5.3,0M275.65,90.16h4.10M276.50,90.69a2.65,2.65 0 1 0 5.3,0a2.65,2.65 0 1 0 -5.3,0M277.10,90.69h4.10M277.95,89.69a2.65,2.65 0 1 0 5.3,0a2.65,2.65 0 1 0 -5.3,0M278.55,89.69h4.10M279.40,90.49a2.65,2.65 0 1 0 5.3,0a2.65,2.65 0 1 0 -5.3,0M280.00,90.49h4.10M280.85,91.73a2.65,2.65 0 1 0 5.3,0a2.65,2.65 0 1 0 -5.3,0M281.45,91.73h4.10M282.30,90.41a2.65,2.65 0 1 0 5.3,0a2.65,2.65 0 1 0 -5.3,0M282.90,90.41h4.10M283.75,92.69a2.65,2.65 0 1 0 5.3,0a2.65,2.65 0 1 0 -5.3,0M284.35,92.69h4.10M285.20,91.40a2.65,2.65 0 1 0 5.3,0a2.65,2.65 0 1 0 -5.3,0M285.80,91.40h4.10M286.65,93.42a2.65,2.65 0 1 0 5.3,0a2.65,2.65 0 1 0 -5.3,0M287.25,93.42h4.10M288.10,92.51a2.65,2.65 0 1 0 5.3,0a2.65,2.65 0 1 0 -5.3,0M288.70,92.51h4.10M289.55,94.29a2.65,2.65 0 1 0 5.3,0a2.65,2.65 0 1 0 -5.3,0M290.15,94.29h4.10M291.00,94.00a2.65,2.65 0 1 0 5.3,0a2.65,2.65 0 1 0 -5.3,0M291.60,94.00h4.10M292.45,92.78a2.65,2.65 0 1 0 5.3,0a2.65,2.65 0 1 0 -5.3,0M293.05,92.78h4.10M293.90,95.57a2.65,2.65 0 1 0 5.3,0a2.65,2.65 0 1 0 -5.3,0M294.50,95.57h4.10M295.35,96.05a2.65,2.65 0 1 0 5.3,0a2.65,2.65 0 1 0 -5.3,0M295.95,96.05h4.10M296.80,95.01a2.65,2.65 0 1 0 5.3,0a2.65,2.65 0 1 0 -5.3,0M297.40,95.01h4.10M298.25,95.18a2.65,2.65 0 1 0 5.3,0a2.65,2.65 0 1 0 -5.3,0M298.85,95.18h4.10M299.70,95.68a2.65,2.65 0 1 0 5.3,0a2.65,2.65 0 1 0 -5.3,0M300.30,95.68h4.10M301.15,95.37a2.65,2.65 0 1 0 5.3,0a2.65,2.65 0 1 0 -5.3,0M301.75,95.37h4.10M302.60,97.67a2.65,2.65 0 1 0 5.3,0a2.65,2.65 0 1 0 -5.3,0M303.20,97.67h4.10M304.05,96.63a2.65,2.65 0 1 0 5.3,0a2.65,2.65 0 1 0 -5.3,0M304.65,96.63h4.10M305.50,97.48a2.65,2.65 0 1 0 5.3,0a2.65,2.65 0 1 0 -5.3,0M306.10,97.48h4.10M306.95,97.19a2.65,2.65 0 1 0 5.3,0a2.65,2.65 0 1 0 -5.3,0M307.55,97.19h4.10M308.40,97.67a2.65,2.65 0 1 0 5.3,0a2.65,2.65 0 1 0 -5.3,0M309.00,97.67h4.10M309.85,97.39a2.65,2.65 0 1 0 5.3,0a2.65,2.65 0 1 0 -5.3,0M310.45,97.39h4.10M311.30,99.96a2.65,2.65 0 1 0 5.3,0a2.65,2.65 0 1 0 -5.3,0M311.90,99.96h4.10M312.75,98.97a2.65,2.65 0 1 0 5.3,0a2.65,2.65 0 1 0 -5.3,0M313.35,98.97h4.10M314.20,100.25a2.65,2.65 0 1 0 5.3,0a2.65,2.65 0 1 0 -5.3,0M314.80,100.25h4.10M315.65,99.67a2.65,2.65 0 1 0 5.3,0a2.65,2.65 0 1 0 -5.3,0M316.25,99.67h4.10M317.10,99.32a2.65,2.65 0 1 0 5.3,0a2.65,2.65 0 1 0 -5.3,0M317.70,99.32h4.10M318.55,99.96a2.65,2.65 0 1 0 5.3,0a2.65,2.65 0 1 0 -5.3,0M319.15,99.96h4.10M320.00,100.06a2.65,2.65 0 1 0 5.3,0a2.65,2.65 0 1 0 -5.3,0M320.60,100.06h4.10M321.45,100.88a2.65,2.65 0 1 0 5.3,0a2.65,2.65 0 1 0 -5.3,0M322.05,100.88h4.10M322.90,100.85a2.65,2.65 0 1 0 5.3,0a2.65,2.65 0 1 0 -5.3,0M323.50,100.85h4.10M324.35,101.24a2.65,2.65 0 1 0 5.3,0a2.65,2.65 0 1 0 -5.3,0M324.95,101.24h4.10M325.80,100.60a2.65,2.65 0 1 0 5.3,0a2.65,2.65 0 1 0 -5.3,0M326.40,100.60h4.10M327.25,101.45a2.65,2.65 0 1 0 5.3,0a2.65,2.65 0 1 0 -5.3,0M327.85,101.45h4.10M328.70,104.01a2.65,2.65 0 1 0 5.3,0a2.65,2.65 0 1 0 -5.3,0M329.30,104.01h4.10M330.15,102.29a2.65,2.65 0 1 0 5.3,0a2.65,2.65 0 1 0 -5.3,0M330.75,102.29h4.10M331.60,102.32a2.65,2.65 0 1 0 5.3,0a2.65,2.65 0 1 0 -5.3,0M332.20,102.32h4.10M333.05,103.95a2.65,2.65 0 1 0 5.3,0a2.65,2.65 0 1 0 -5.3,0M333.65,103.95h4.10M334.50,105.29a2.65,2.65 0 1 0 5.3,0a2.65,2.65 0 1 0 -5.3,0M335.10,105.29h4.10M335.95,103.07a2.65,2.65 0 1 0 5.3,0a2.65,2.65 0 1 0 -5.3,0M336.55,103.07h4.10M337.40,104.52a2.65,2.65 0 1 0 5.3,0a2.65,2.65 0 1 0 -5.3,0M338.00,104.52h4.10M338.85,104.45a2.65,2.65 0 1 0 5.3,0a2.65,2.65 0 1 0 -5.3,0M339.45,104.45h4.10M340.30,103.72a2.65,2.65 0 1 0 5.3,0a2.65,2.65 0 1 0 -5.3,0M340.90,103.72h4.10M341.75,106.24a2.65,2.65 0 1 0 5.3,0a2.65,2.65 0 1 0 -5.3,0M342.35,106.24h4.10M343.20,105.83a2.65,2.65 0 1 0 5.3,0a2.65,2.65 0 1 0 -5.3,0M343.80,105.83h4.10M344.65,106.20a2.65,2.65 0 1 0 5.3,0a2.65,2.65 0 1 0 -5.3,0M345.25,106.20h4.10M346.10,105.75a2.65,2.65 0 1 0 5.3,0a2.65,2.65 0 1 0 -5.3,0M346.70,105.75h4.10M347.55,107.16a2.65,2.65 0 1 0 5.3,0a2.65,2.65 0 1 0 -5.3,0M348.15,107.16h4.10M349.00,106.60a2.65,2.65 0 1 0 5.3,0a2.65,2.65 0 1 0 -5.3,0M349.60,106.60h4.10M350.45,107.33a2.65,2.65 0 1 0 5.3,0a2.65,2.65 0 1 0 -5.3,0M351.05,107.33h4.10M351.90,106.84a2.65,2.65 0 1 0 5.3,0a2.65,2.65 0 1 0 -5.3,0M352.50,106.84h4.10M353.35,107.14a2.65,2.65 0 1 0 5.3,0a2.65,2.65 0 1 0 -5.3,0M353.95,107.14h4.10" fill="none" stroke="#0a0aff" stroke-width="0.78"/>
<path d="M595.6,78 L519.2,216 M608.2,78 L680.9,216 M526,215 H668" stroke="#1a1a1a" stroke-width="1.25" fill="none"/>
<circle cx="599.6" cy="78.1" r="28.8" fill="#fff200" stroke="#111" stroke-width="1.4"/>
<circle cx="526.2" cy="216.5" r="28.8" fill="#fff200" stroke="#111" stroke-width="1.4"/>
<circle cx="667.9" cy="216.2" r="28.8" fill="#fff200" stroke="#111" stroke-width="1.4"/>
<text x="527.6" y="133.0" font-size="23.5">J'</text>
<text x="657.6" y="132.3" font-size="23.5">J'</text>
<text x="591.2" y="250.8" font-size="23.5">J</text>
<path d="M73.6,331.1 V549.5 H359.4" fill="none" stroke="#262626" stroke-width="1.2"/>
<path d="M69.2,549.50H73.6M69.2,518.30H73.6M69.2,487.10H73.6M69.2,455.90H73.6M69.2,424.70H73.6M69.2,393.50H73.6M69.2,362.30H73.6M69.2,331.10H73.6M71.2,533.90H73.6M71.2,502.70H73.6M71.2,471.50H73.6M71.2,440.30H73.6M71.2,409.10H73.6M71.2,377.90H73.6M71.2,346.70H73.6M97.30,549.5V553.5M144.95,549.5V553.5M192.60,549.5V553.5M240.25,549.5V553.5M287.90,549.5V553.5M335.55,549.5V553.5M73.47,549.5V551.8M121.12,549.5V551.8M168.77,549.5V551.8M216.43,549.5V551.8M264.07,549.5V551.8M311.72,549.5V551.8M359.38,549.5V551.8" fill="none" stroke="#262626" stroke-width="1.1"/>
<text x="66" y="553.7" text-anchor="end" font-size="15">0.0</text>
<text x="66" y="522.5" text-anchor="end" font-size="15">2.0</text>
<text x="66" y="491.3" text-anchor="end" font-size="15">4.0</text>
<text x="66" y="460.1" text-anchor="end" font-size="15">6.0</text>
<text x="66" y="428.9" text-anchor="end" font-size="15">8.0</text>
<text x="66" y="397.7" text-anchor="end" font-size="15">10.0</text>
<text x="66" y="366.5" text-anchor="end" font-size="15">12.0</text>
<text x="66" y="335.3" text-anchor="end" font-size="15">14.0</text>
<text x="97.3" y="569.5" text-anchor="middle" font-size="15">0</text>
<text x="144.9" y="569.5" text-anchor="middle" font-size="15">50</text>
<text x="192.6" y="569.5" text-anchor="middle" font-size="15">100</text>
<text x="240.2" y="569.5" text-anchor="middle" font-size="15">150</text>
<text x="287.9" y="569.5" text-anchor="middle" font-size="15">200</text>
<text x="335.6" y="569.5" text-anchor="middle" font-size="15">250</text>
<text x="225" y="589.2" text-anchor="middle" font-size="16.8">T (K)</text>
<text transform="translate(21.6,436.6) rotate(-90)" text-anchor="middle" font-size="16.8"><tspan font-family="Liberation Serif, serif" font-style="italic" font-size="15.5">χ</tspan> x 10<tspan font-size="10" dy="-4.6">-26</tspan><tspan dy="4.6"> (emu/Co-ion)</tspan></text>
<text x="278.5" y="344.9" font-size="15.6">J = 3.2 meV</text>
<text x="278.5" y="364.1" font-size="15.6"><tspan font-family="Liberation Serif, serif" font-size="17">α</tspan> = 0.45</text>
<text x="278.5" y="383.2" font-size="15.6">J' = <tspan font-family="Liberation Serif, serif" font-size="17">α</tspan>J</text>
<path d="M98.81,350.66 L99.27,351.00 L99.57,351.25 L99.76,351.46 L99.88,351.65 L100.03,351.94 L100.20,352.38 L100.39,352.92 L100.59,353.53 L100.79,354.14 L100.96,354.72 L101.13,355.31 L101.29,355.92 L101.45,356.55 L101.61,357.19 L101.78,357.83 L101.94,358.47 L102.09,359.10 L102.25,359.74 L102.40,360.37 L102.55,361.00 L102.69,361.63 L102.84,362.27 L102.97,362.90 L103.11,363.53 L103.23,364.16 L103.36,364.80 L103.49,365.44 L103.61,366.09 L103.74,366.74 L103.86,367.40 L103.99,368.05 L104.12,368.71 L104.25,369.38 L104.39,370.04 L104.52,370.69 L104.66,371.35 L104.79,372.00 L104.93,372.66 L105.07,373.31 L105.21,373.96 L105.35,374.61 L105.49,375.26 L105.62,375.91 L105.76,376.55 L105.90,377.20 L106.03,377.85 L106.17,378.49 L106.30,379.14 L106.43,379.78 L106.56,380.43 L106.69,381.08 L106.83,381.74 L106.96,382.39 L107.10,383.05 L107.23,383.70 L107.37,384.36 L107.51,385.02 L107.66,385.69 L107.81,386.35 L107.96,387.01 L108.11,387.67 L108.27,388.32 L108.42,388.98 L108.59,389.64 L108.75,390.29 L108.91,390.95 L109.08,391.60 L109.25,392.25 L109.42,392.90 L109.59,393.55 L109.77,394.20 L109.95,394.86 L110.14,395.53 L110.33,396.18 L110.52,396.83 L110.71,397.47 L110.90,398.11 L111.09,398.73 L111.27,399.36 L111.45,399.98 L111.62,400.59 L111.79,401.21 L111.95,401.83 L112.11,402.46 L112.27,403.09 L112.42,403.72 L112.57,404.36 L112.72,404.99 L112.87,405.63 L113.02,406.28 L113.17,406.92 L113.31,407.57 L113.46,408.22 L113.61,408.86 L113.75,409.52 L113.90,410.17 L114.05,410.82 L114.20,411.48 L114.35,412.13 L114.50,412.79 L114.66,413.45 L114.82,414.11 L114.99,414.76 L115.15,415.42 L115.32,416.08 L115.50,416.74 L115.68,417.40 L115.87,418.06 L116.06,418.72 L116.25,419.38 L116.46,420.03 L116.66,420.68 L116.87,421.33 L117.08,421.97 L117.30,422.62 L117.52,423.27 L117.75,423.91 L117.98,424.56 L118.21,425.20 L118.45,425.84 L118.69,426.48 L118.94,427.12 L119.18,427.76 L119.43,428.39 L119.69,429.03 L119.94,429.66 L120.20,430.29 L120.47,430.92 L120.73,431.55 L121.00,432.18 L121.27,432.80 L121.54,433.42 L121.82,434.04 L122.10,434.66 L122.38,435.28 L122.66,435.89 L122.94,436.50 L123.23,437.11 L123.51,437.72 L123.80,438.33 L124.10,438.94 L124.40,439.55 L124.70,440.15 L125.01,440.76 L125.32,441.37 L125.63,441.97 L125.95,442.58 L126.27,443.18 L126.60,443.78 L126.93,444.38 L127.26,444.98 L127.59,445.58 L127.93,446.18 L128.28,446.77 L128.62,447.36 L128.97,447.95 L129.32,448.54 L129.68,449.13 L130.04,449.71 L130.40,450.30 L130.76,450.88 L131.13,451.46 L131.50,452.03 L131.87,452.60 L132.22,453.15 L132.58,453.71 L132.95,454.29 L133.33,454.89 L133.72,455.47 L134.10,456.06 L134.49,456.64 L134.88,457.22 L135.27,457.80 L135.67,458.38 L136.07,458.96 L136.48,459.53 L136.89,460.11 L137.30,460.68 L137.72,461.25 L138.14,461.82 L138.57,462.39 L139.00,462.96 L139.43,463.52 L139.86,464.09 L140.30,464.65 L140.75,465.21 L141.19,465.76 L141.64,466.32 L142.09,466.87 L142.54,467.42 L143.00,467.97 L143.46,468.51 L143.92,469.06 L144.39,469.60 L144.85,470.13 L145.32,470.67 L145.79,471.20 L146.26,471.73 L146.74,472.26 L147.22,472.79 L147.75,473.35 L148.26,473.86 L148.75,474.33 L149.23,474.80 L149.72,475.27 L150.21,475.73 L150.70,476.19 L151.19,476.65 L151.69,477.11 L152.19,477.57 L152.70,478.02 L153.20,478.48 L153.71,478.93 L154.22,479.38 L154.74,479.83 L155.26,480.27 L155.78,480.71 L156.30,481.16 L156.82,481.59 L157.35,482.03 L157.88,482.47 L158.41,482.90 L158.95,483.33 L159.48,483.75 L160.02,484.18 L160.56,484.60 L161.11,485.02 L161.65,485.43 L162.20,485.85 L162.75,486.26 L163.30,486.66 L163.85,487.07 L164.40,487.47 L164.96,487.86 L165.52,488.26 L166.08,488.65 L166.64,489.04 L167.20,489.42 L167.76,489.80 L168.32,490.17 L168.89,490.55 L169.45,490.91 L170.02,491.28 L170.59,491.64 L171.16,492.00 L171.73,492.36 L172.31,492.71 L172.88,493.07 L173.46,493.42 L174.04,493.77 L174.63,494.12 L175.21,494.46 L175.80,494.80 L176.39,495.14 L176.98,495.48 L177.57,495.82 L178.17,496.15 L178.76,496.48 L179.36,496.81 L179.96,497.13 L180.56,497.46 L181.16,497.78 L181.76,498.10 L182.37,498.41 L182.97,498.73 L183.58,499.04 L184.19,499.34 L184.80,499.65 L185.40,499.95 L186.01,500.25 L186.63,500.55 L187.24,500.85 L187.85,501.14 L188.46,501.43 L189.07,501.71 L189.69,502.00 L190.30,502.28 L190.92,502.56 L191.53,502.83 L192.15,503.11 L192.77,503.38 L193.39,503.65 L194.02,503.91 L194.64,504.18 L195.27,504.44 L195.89,504.69 L196.52,504.95 L197.15,505.20 L197.78,505.45 L198.41,505.69 L199.05,505.94 L199.68,506.18 L200.31,506.42 L200.95,506.66 L201.58,506.89 L202.22,507.12 L202.85,507.35 L203.49,507.58 L204.12,507.81 L204.76,508.03 L205.39,508.26 L206.03,508.48 L206.66,508.70 L207.30,508.92 L207.93,509.13 L208.57,509.35 L209.20,509.56 L209.84,509.77 L210.48,509.98 L211.11,510.18 L211.75,510.39 L212.39,510.59 L213.03,510.79 L213.67,511.00 L214.32,511.19 L214.96,511.39 L215.60,511.59 L216.24,511.78 L216.89,511.98 L217.53,512.17 L218.18,512.36 L218.82,512.55 L219.47,512.74 L220.11,512.93 L220.76,513.11 L221.41,513.29 L222.05,513.48 L222.70,513.66 L223.35,513.83 L224.00,514.01 L224.64,514.19 L225.29,514.36 L225.94,514.53 L226.59,514.70 L227.24,514.87 L227.89,515.04 L228.53,515.21 L229.18,515.37 L229.83,515.54 L230.47,515.70 L231.12,515.86 L231.77,516.02 L232.42,516.19 L233.06,516.35 L233.71,516.51 L234.36,516.67 L235.01,516.82 L235.66,516.98 L236.31,517.14 L236.96,517.29 L237.61,517.45 L238.27,517.60 L238.93,517.76 L239.62,517.91 L240.29,518.05 L240.94,518.19 L241.59,518.32 L242.24,518.45 L242.90,518.59 L243.55,518.72 L244.20,518.85 L244.86,518.98 L245.51,519.10 L246.17,519.23 L246.82,519.36 L247.48,519.48 L248.13,519.60 L248.79,519.72 L249.44,519.85 L250.10,519.97 L250.75,520.08 L251.41,520.20 L252.07,520.32 L252.72,520.43 L253.38,520.55 L254.04,520.66 L254.69,520.77 L255.35,520.88 L256.01,520.99 L256.66,521.09 L257.32,521.20 L257.98,521.31 L258.63,521.41 L259.29,521.51 L259.95,521.62 L260.60,521.72 L261.26,521.82 L261.92,521.92 L262.58,522.02 L263.23,522.12 L263.89,522.22 L264.55,522.31 L265.21,522.41 L265.87,522.51 L266.53,522.60 L267.19,522.69 L267.85,522.79 L268.50,522.88 L269.16,522.97 L269.81,523.06 L270.47,523.15 L271.13,523.25 L271.79,523.34 L272.45,523.43 L273.11,523.52 L273.77,523.61 L274.43,523.70 L275.09,523.79 L275.75,523.88 L276.41,523.96 L277.07,524.05 L277.73,524.13 L278.39,524.22 L279.05,524.30 L279.71,524.38 L280.37,524.47 L281.03,524.55 L281.70,524.63 L282.36,524.71 L283.02,524.79 L283.68,524.86 L284.34,524.94 L285.00,525.02 L285.66,525.09 L286.32,525.17 L286.98,525.24 L287.65,525.32 L288.31,525.39 L288.97,525.46 L289.63,525.53 L290.29,525.60 L290.95,525.67 L291.62,525.74 L292.28,525.81 L292.94,525.88 L293.60,525.95 L294.26,526.01 L294.92,526.08 L295.59,526.14 L296.25,526.21 L296.91,526.27 L297.57,526.34 L298.24,526.40 L298.90,526.46 L299.54,526.53 L300.18,526.59 L300.84,526.67 L301.50,526.74 L302.17,526.81 L302.83,526.89 L303.49,526.96 L304.15,527.03 L304.81,527.10 L305.48,527.17 L306.14,527.24 L306.80,527.31 L307.46,527.38 L308.12,527.45 L308.79,527.52 L309.45,527.59 L310.11,527.66 L310.77,527.72 L311.43,527.79 L312.09,527.86 L312.76,527.93 L313.42,527.99 L314.08,528.06 L314.74,528.13 L315.40,528.19 L316.07,528.26 L316.73,528.32 L317.39,528.39 L318.05,528.45 L318.72,528.52 L319.38,528.58 L320.04,528.64 L320.70,528.71 L321.37,528.77 L322.03,528.83 L322.69,528.89 L323.35,528.96 L324.02,529.02 L324.68,529.08 L325.34,529.14 L326.01,529.20 L326.67,529.26 L327.33,529.32 L327.99,529.37 L328.66,529.43 L329.32,529.49 L329.98,529.55 L330.65,529.61 L331.31,529.66 L331.97,529.72 L332.64,529.77 L333.30,529.83 L333.96,529.88 L334.63,529.94 L335.29,529.99 L335.69,525.41 L335.03,525.34 L334.37,525.28 L333.71,525.22 L333.05,525.16 L332.39,525.09 L331.73,525.03 L331.07,524.97 L330.41,524.90 L329.75,524.84 L329.09,524.77 L328.43,524.71 L327.77,524.64 L327.11,524.58 L326.45,524.51 L325.79,524.44 L325.13,524.38 L324.48,524.31 L323.82,524.24 L323.16,524.17 L322.50,524.10 L321.84,524.03 L321.18,523.96 L320.52,523.89 L319.86,523.82 L319.20,523.75 L318.54,523.68 L317.88,523.61 L317.23,523.54 L316.57,523.47 L315.91,523.39 L315.25,523.32 L314.59,523.25 L313.93,523.17 L313.27,523.10 L312.61,523.02 L311.95,522.95 L311.30,522.87 L310.64,522.80 L309.98,522.72 L309.32,522.65 L308.66,522.57 L308.00,522.50 L307.34,522.42 L306.68,522.34 L306.03,522.26 L305.37,522.19 L304.71,522.11 L304.05,522.03 L303.39,521.95 L302.73,521.87 L302.08,521.79 L301.42,521.71 L300.75,521.63 L300.08,521.55 L299.41,521.48 L298.75,521.41 L298.09,521.33 L297.43,521.26 L296.78,521.19 L296.12,521.11 L295.46,521.04 L294.81,520.96 L294.15,520.89 L293.49,520.81 L292.84,520.73 L292.18,520.66 L291.53,520.58 L290.87,520.50 L290.21,520.42 L289.56,520.34 L288.90,520.26 L288.25,520.18 L287.60,520.10 L286.94,520.01 L286.29,519.93 L285.63,519.84 L284.98,519.76 L284.32,519.67 L283.67,519.59 L283.02,519.50 L282.36,519.41 L281.71,519.32 L281.06,519.23 L280.40,519.14 L279.75,519.05 L279.10,518.96 L278.44,518.87 L277.79,518.77 L277.14,518.68 L276.48,518.58 L275.83,518.49 L275.18,518.39 L274.53,518.29 L273.87,518.19 L273.22,518.09 L272.57,517.99 L271.92,517.89 L271.27,517.79 L270.61,517.69 L269.95,517.59 L269.29,517.49 L268.64,517.39 L267.99,517.29 L267.34,517.18 L266.69,517.08 L266.04,516.98 L265.39,516.87 L264.74,516.77 L264.09,516.66 L263.44,516.55 L262.79,516.45 L262.14,516.34 L261.49,516.23 L260.84,516.12 L260.20,516.01 L259.55,515.90 L258.90,515.78 L258.25,515.67 L257.61,515.55 L256.96,515.44 L256.31,515.32 L255.67,515.21 L255.02,515.09 L254.38,514.97 L253.74,514.85 L253.09,514.73 L252.45,514.60 L251.80,514.48 L251.16,514.35 L250.52,514.22 L249.87,514.10 L249.23,513.97 L248.58,513.84 L247.94,513.71 L247.30,513.57 L246.65,513.44 L246.01,513.30 L245.37,513.17 L244.73,513.03 L244.08,512.89 L243.44,512.75 L242.80,512.61 L242.16,512.47 L241.52,512.33 L240.89,512.19 L240.28,512.04 L239.65,511.89 L239.01,511.73 L238.37,511.57 L237.73,511.40 L237.09,511.24 L236.45,511.07 L235.81,510.91 L235.17,510.74 L234.53,510.58 L233.90,510.41 L233.26,510.24 L232.62,510.07 L231.98,509.90 L231.34,509.73 L230.70,509.56 L230.07,509.38 L229.43,509.21 L228.80,509.04 L228.16,508.86 L227.53,508.69 L226.90,508.51 L226.27,508.33 L225.63,508.15 L225.00,507.97 L224.37,507.78 L223.74,507.60 L223.11,507.41 L222.48,507.22 L221.85,507.03 L221.22,506.84 L220.59,506.65 L219.96,506.46 L219.33,506.26 L218.70,506.06 L218.08,505.87 L217.45,505.67 L216.82,505.47 L216.20,505.26 L215.57,505.06 L214.95,504.85 L214.32,504.65 L213.70,504.44 L213.08,504.23 L212.46,504.02 L211.84,503.81 L211.21,503.59 L210.59,503.38 L209.97,503.17 L209.35,502.95 L208.73,502.74 L208.11,502.52 L207.48,502.30 L206.86,502.08 L206.25,501.86 L205.63,501.64 L205.01,501.41 L204.39,501.19 L203.78,500.96 L203.16,500.73 L202.55,500.50 L201.94,500.26 L201.32,500.03 L200.71,499.79 L200.11,499.55 L199.50,499.31 L198.90,499.07 L198.29,498.82 L197.69,498.57 L197.09,498.32 L196.50,498.07 L195.90,497.81 L195.31,497.56 L194.72,497.30 L194.13,497.03 L193.54,496.77 L192.95,496.50 L192.36,496.22 L191.77,495.95 L191.18,495.67 L190.59,495.39 L190.00,495.11 L189.41,494.82 L188.83,494.53 L188.24,494.24 L187.66,493.95 L187.07,493.65 L186.49,493.35 L185.91,493.05 L185.33,492.75 L184.75,492.44 L184.17,492.14 L183.59,491.83 L183.01,491.51 L182.44,491.20 L181.87,490.88 L181.29,490.56 L180.72,490.24 L180.16,489.92 L179.59,489.59 L179.02,489.26 L178.46,488.93 L177.90,488.60 L177.34,488.27 L176.79,487.93 L176.23,487.59 L175.68,487.25 L175.13,486.91 L174.58,486.56 L174.04,486.22 L173.49,485.87 L172.95,485.52 L172.42,485.17 L171.88,484.82 L171.35,484.46 L170.82,484.10 L170.29,483.73 L169.76,483.36 L169.23,482.99 L168.70,482.62 L168.17,482.24 L167.65,481.86 L167.12,481.47 L166.60,481.08 L166.08,480.69 L165.56,480.30 L165.04,479.90 L164.53,479.50 L164.01,479.10 L163.50,478.69 L162.99,478.28 L162.48,477.87 L161.97,477.46 L161.47,477.04 L160.97,476.63 L160.47,476.21 L159.97,475.78 L159.47,475.36 L158.98,474.93 L158.49,474.50 L158.00,474.07 L157.52,473.64 L157.04,473.21 L156.56,472.77 L156.08,472.34 L155.61,471.90 L155.14,471.46 L154.67,471.02 L154.21,470.57 L153.74,470.13 L153.28,469.68 L152.82,469.23 L152.39,468.80 L151.97,468.36 L151.52,467.88 L151.06,467.38 L150.60,466.88 L150.15,466.38 L149.69,465.87 L149.24,465.36 L148.79,464.85 L148.34,464.33 L147.90,463.82 L147.46,463.30 L147.02,462.78 L146.58,462.26 L146.15,461.73 L145.72,461.21 L145.29,460.68 L144.86,460.15 L144.44,459.62 L144.03,459.09 L143.61,458.55 L143.20,458.02 L142.79,457.48 L142.39,456.94 L141.99,456.40 L141.60,455.86 L141.21,455.32 L140.82,454.78 L140.44,454.23 L140.06,453.69 L139.68,453.14 L139.31,452.58 L138.94,452.03 L138.56,451.47 L138.19,450.91 L137.82,450.33 L137.44,449.74 L137.06,449.18 L136.70,448.64 L136.35,448.09 L135.99,447.55 L135.64,447.00 L135.29,446.45 L134.95,445.89 L134.60,445.34 L134.26,444.78 L133.92,444.22 L133.59,443.66 L133.26,443.10 L132.93,442.53 L132.61,441.97 L132.29,441.40 L131.97,440.83 L131.65,440.26 L131.34,439.69 L131.04,439.12 L130.73,438.55 L130.43,437.97 L130.14,437.40 L129.84,436.83 L129.56,436.25 L129.27,435.67 L128.99,435.09 L128.71,434.51 L128.43,433.92 L128.15,433.34 L127.87,432.75 L127.60,432.15 L127.33,431.56 L127.06,430.97 L126.79,430.37 L126.53,429.77 L126.27,429.17 L126.01,428.57 L125.75,427.97 L125.50,427.37 L125.25,426.76 L125.01,426.16 L124.76,425.55 L124.52,424.95 L124.29,424.34 L124.05,423.73 L123.82,423.12 L123.60,422.51 L123.38,421.90 L123.16,421.29 L122.94,420.68 L122.73,420.07 L122.53,419.46 L122.33,418.85 L122.13,418.24 L121.94,417.63 L121.75,417.02 L121.57,416.41 L121.39,415.80 L121.22,415.18 L121.05,414.56 L120.89,413.94 L120.73,413.31 L120.57,412.68 L120.41,412.05 L120.26,411.41 L120.10,410.78 L119.95,410.14 L119.80,409.50 L119.65,408.85 L119.51,408.21 L119.36,407.56 L119.21,406.91 L119.06,406.26 L118.91,405.60 L118.76,404.95 L118.60,404.30 L118.45,403.64 L118.29,402.98 L118.13,402.33 L117.96,401.67 L117.80,401.01 L117.63,400.35 L117.45,399.69 L117.27,399.03 L117.08,398.37 L116.89,397.71 L116.69,397.06 L116.50,396.42 L116.31,395.78 L116.11,395.15 L115.92,394.52 L115.74,393.90 L115.56,393.29 L115.39,392.67 L115.22,392.04 L115.05,391.40 L114.88,390.77 L114.71,390.13 L114.54,389.50 L114.38,388.87 L114.22,388.23 L114.06,387.60 L113.91,386.96 L113.75,386.33 L113.60,385.69 L113.45,385.06 L113.31,384.42 L113.17,383.79 L113.03,383.15 L112.89,382.51 L112.75,381.87 L112.62,381.22 L112.48,380.57 L112.35,379.93 L112.22,379.28 L112.08,378.62 L111.95,377.97 L111.81,377.31 L111.67,376.66 L111.53,376.00 L111.39,375.35 L111.25,374.70 L111.11,374.05 L110.97,373.40 L110.83,372.75 L110.69,372.11 L110.55,371.46 L110.41,370.81 L110.27,370.17 L110.13,369.52 L110.00,368.87 L109.86,368.23 L109.73,367.59 L109.61,366.95 L109.48,366.30 L109.35,365.65 L109.22,365.00 L109.10,364.34 L108.97,363.68 L108.83,363.02 L108.69,362.36 L108.55,361.69 L108.40,361.02 L108.25,360.36 L108.10,359.70 L107.94,359.04 L107.78,358.38 L107.62,357.73 L107.45,357.07 L107.28,356.43 L107.12,355.78 L106.95,355.13 L106.78,354.47 L106.59,353.80 L106.40,353.12 L106.19,352.43 L105.97,351.78 L105.75,351.10 L105.48,350.36 L105.16,349.57 L104.72,348.75 L104.15,347.92 L103.46,347.19 L102.74,346.57 L102.07,346.10Z" fill="#000"/>
<rect x="97" y="346" width="5.2" height="4.6" fill="#000"/>
<path d="" fill="none"/>
<path d="M106.01,371.74 L106.15,372.39 L106.29,373.05 L106.43,373.70 L106.57,374.35 L106.71,375.00 L106.85,375.64 L106.98,376.29 L107.12,376.94 L107.26,377.59 L107.39,378.23 L107.53,378.88 L107.66,379.53 L107.79,380.18 L107.93,380.83 L108.06,381.48 L108.19,382.14 L108.33,382.79 L108.47,383.44 L108.60,384.10 L108.75,384.75 L108.89,385.41 L109.04,386.07 L109.19,386.72 L109.34,387.37 L109.50,388.03 L109.66,388.68 L109.82,389.33 L109.98,389.98 L110.15,390.63 L110.31,391.28 L110.48,391.93 L110.65,392.57 L110.82,393.22 L111.00,393.87 L111.18,394.52 L111.36,395.17 L111.55,395.82 L111.74,396.46 L111.94,397.10 L112.13,397.74 L112.32,398.37 L112.50,399.00 L112.68,399.62 L112.86,400.25 L113.03,400.87 L113.20,401.51 L113.36,402.14 L113.52,402.78 L113.68,403.41 L113.83,404.05 L113.98,404.70 L114.13,405.34 L114.28,405.98 L114.43,406.63 L114.58,407.28 L114.73,407.93 L114.87,408.58 L115.02,409.23 L115.17,409.88 L115.32,410.53 L115.47,411.18 L115.62,411.83 L115.77,412.49 L115.93,413.14 L116.09,413.79 L116.25,414.44 L116.42,415.10 L116.59,415.75 L116.76,416.40 L116.94,417.05 L117.13,417.70 L117.32,418.34 L117.51,418.99 L117.71,419.63 L117.92,420.27 L118.12,420.91 L118.34,421.55 L118.55,422.19 L118.77,422.83 L119.00,423.47 L119.23,424.10 L119.46,424.74 L119.69,425.37 L119.93,426.00 L120.18,426.64 L120.42,427.27 L120.67,427.90 L120.93,428.52 L121.18,429.15 L121.44,429.78 L121.70,430.40 L121.97,431.02 L122.23,431.64 L122.50,432.26 L122.77,432.88 L123.05,433.49 L123.32,434.10 L123.60,434.71 L123.88,435.32 L124.17,435.93 L124.45,436.53 L124.74,437.13 L125.03,437.73 L125.32,438.34 L125.62,438.94 L125.92,439.54 L126.22,440.14 L126.53,440.74 L126.84,441.33 L127.16,441.93 L127.48,442.53 L127.80,443.12 L128.13,443.71 L128.46,444.30 L128.80,444.90 L129.13,445.48 L129.47,446.07 L129.82,446.66 L130.16,447.24 L130.51,447.82 L130.87,448.40 L131.22,448.98 L131.58,449.55 L131.94,450.13 L132.31,450.70 L132.67,451.26 L133.04,451.83 L133.40,452.38 L133.77,452.94 L134.14,453.53 L134.52,454.11 L134.90,454.69 L135.28,455.27 L135.67,455.85 L136.05,456.42 L136.44,456.99 L136.84,457.56 L137.24,458.13 L137.64,458.70 L138.05,459.27 L138.46,459.83 L138.88,460.39 L139.30,460.96 L139.72,461.52 L140.14,462.08 L140.57,462.63 L141.01,463.19 L141.44,463.74 L141.88,464.29 L142.33,464.84 L142.77,465.39 L143.22,465.93 L143.67,466.48 L144.13,467.02 L144.58,467.55 L145.04,468.09 L145.50,468.62 L145.96,469.15 L146.43,469.68 L146.90,470.21 L147.37,470.73 L147.84,471.25 L148.32,471.77 L148.82,472.30 L149.30,472.80 L149.77,473.28 L150.25,473.75 L150.72,474.22 L151.20,474.69 L151.67,475.16 L152.15,475.62 L152.64,476.08 L153.13,476.54 L153.62,477.00 L154.11,477.46 L154.60,477.92 L155.10,478.37 L155.60,478.83 L156.11,479.28 L156.62,479.73 L157.12,480.17 L157.64,480.62 L158.15,481.06 L158.67,481.50 L159.19,481.94 L159.71,482.38 L160.23,482.81 L160.76,483.24 L161.29,483.67 L161.82,484.10 L162.35,484.52 L162.88,484.94 L163.42,485.36 L163.96,485.77 L164.50,486.18 L165.04,486.59 L165.58,487.00 L166.12,487.40 L166.67,487.80 L167.22,488.19 L167.77,488.58 L168.32,488.97 L168.87,489.36 L169.42,489.74 L169.97,490.11 L170.53,490.49 L171.08,490.86 L171.64,491.23 L172.21,491.60 L172.77,491.96 L173.34,492.33 L173.91,492.69 L174.48,493.05 L175.05,493.41 L175.62,493.76 L176.20,494.12 L176.78,494.47 L177.36,494.82 L177.94,495.16 L178.53,495.51 L179.11,495.85 L179.70,496.19 L180.29,496.53 L180.88,496.86 L181.47,497.19 L182.07,497.53 L182.66,497.85 L183.26,498.18 L183.85,498.50 L184.45,498.82 L185.05,499.14 L185.65,499.46 L186.25,499.77 L186.85,500.08 L187.46,500.39 L188.06,500.69 L188.66,501.00 L189.27,501.30 L189.87,501.59 L190.48,501.89 L191.09,502.18 L191.69,502.47 L192.30,502.76 L192.92,503.04 L193.53,503.32 L194.15,503.60 L194.76,503.88 L195.38,504.15 L196.00,504.42 L196.63,504.69 L197.25,504.96 L197.87,505.22 L198.50,505.48 L199.12,505.73 L199.76,505.97 L200.39,506.21 L201.02,506.45 L201.66,506.68 L202.29,506.91 L202.93,507.14 L203.56,507.36 L204.20,507.59 L204.84,507.81 L205.47,508.03 L206.11,508.25 L206.74,508.47 L207.38,508.68 L208.01,508.90 L208.65,509.11 L209.28,509.32 L209.92,509.53 L210.55,509.74 L211.19,509.95 L211.83,510.16 L212.47,510.36 L213.11,510.57 L213.75,510.77 L214.39,510.97 L215.03,511.17 L215.67,511.37 L216.31,511.56 L216.96,511.76 L217.60,511.95 L218.24,512.14 L218.89,512.33 L219.53,512.52 L220.18,512.71 L220.82,512.90 L221.47,513.08 L222.11,513.26 L222.76,513.44 L223.41,513.62 L224.05,513.80 L224.70,513.98 L225.35,514.15 L226.00,514.33 L226.65,514.50 L227.29,514.67 L227.94,514.84 L228.58,515.01 L229.23,515.17 L229.88,515.34 L230.52,515.50 L231.17,515.67 L231.82,515.83 L232.46,516.00 L233.11,516.16 L233.76,516.32 L234.41,516.48 L235.06,516.64 L235.71,516.80 L236.36,516.96 L237.01,517.11 L237.66,517.27 L238.31,517.42 L238.97,517.58 L239.65,517.74 L240.32,517.88 L240.98,518.01 L241.63,518.15 L242.28,518.28 L242.93,518.42 L243.59,518.55 L244.24,518.68 L244.89,518.81 L245.55,518.94 L246.20,519.07 L246.85,519.19 L247.51,519.32 L248.16,519.44 L248.82,519.57 L249.47,519.69 L250.13,519.81 L250.78,519.93 L251.44,520.05 L252.10,520.17 L252.75,520.28 L253.41,520.40 L254.06,520.51 L254.72,520.62 L255.38,520.73 L256.03,520.84 L256.69,520.95 L257.34,521.06 L258.00,521.17 L258.66,521.27 L259.31,521.38 L259.97,521.48 L260.63,521.59 L261.28,521.69 L261.94,521.79 L262.60,521.89 L263.25,521.99 L263.91,522.09 L264.57,522.19 L265.23,522.29 L265.89,522.38 L266.55,522.48 L267.20,522.58 L267.86,522.67 L268.52,522.76 L269.18,522.86 L269.83,522.95 L270.48,523.04 L271.14,523.14 L271.80,523.23 L272.46,523.32 L273.12,523.42 L273.78,523.51 L274.44,523.60 L275.10,523.69 L275.76,523.78 L276.42,523.86 L277.08,523.95 L277.74,524.04 L278.40,524.12 L279.06,524.21 L279.72,524.29 L280.38,524.38 L281.05,524.46 L281.71,524.54 L282.37,524.62 L283.03,524.70 L283.69,524.78 L284.35,524.86 L285.01,524.94 L285.67,525.02 L286.33,525.09 L286.99,525.17 L287.65,525.24 L288.32,525.32 L288.98,525.39 L289.64,525.46 L290.30,525.53 L290.96,525.61 L291.62,525.68 L292.28,525.75 L292.95,525.82 L293.61,525.89 L294.27,525.95 L294.93,526.02 L295.59,526.09 L296.25,526.15 L296.92,526.22 L297.58,526.29 L298.24,526.35 L298.90,526.42 L299.55,526.48 L300.19,526.55 L300.85,526.62 L301.51,526.70 L302.17,526.77 L302.83,526.85 L303.49,526.92 L304.16,526.99 L304.82,527.07 L305.48,527.14 L306.14,527.21 L306.80,527.28 L307.46,527.35 L308.13,527.43 L308.79,527.50 L309.45,527.57 L310.11,527.64 L310.77,527.71 L311.43,527.78 L312.10,527.85 L312.76,527.91 L313.42,527.98 L314.08,528.05 L314.74,528.12 L315.40,528.19 L316.07,528.26 L316.73,528.32 L317.39,528.39 L318.05,528.46 L318.72,528.52 L319.38,528.59 L320.04,528.65 L320.70,528.72 L321.36,528.78 L322.03,528.84 L322.69,528.91 L323.35,528.97 L324.02,529.03 L324.68,529.10 L325.34,529.16 L326.00,529.22 L326.67,529.28 L327.33,529.34 L327.99,529.40 L328.66,529.46 L329.32,529.52 L329.98,529.58 L330.64,529.64 L331.31,529.70 L331.97,529.76 L332.63,529.82 L333.30,529.87 L333.96,529.93 L334.62,529.99 L335.29,530.04 L335.50,527.55 L334.84,527.49 L334.18,527.43 L333.52,527.38 L332.86,527.32 L332.20,527.26 L331.53,527.20 L330.87,527.14 L330.21,527.08 L329.55,527.02 L328.89,526.95 L328.23,526.89 L327.57,526.83 L326.91,526.77 L326.24,526.71 L325.58,526.64 L324.92,526.58 L324.26,526.51 L323.60,526.45 L322.94,526.38 L322.28,526.32 L321.62,526.25 L320.96,526.19 L320.30,526.12 L319.63,526.05 L318.97,525.99 L318.31,525.92 L317.65,525.85 L316.99,525.78 L316.33,525.71 L315.67,525.65 L315.01,525.58 L314.35,525.51 L313.69,525.44 L313.03,525.37 L312.37,525.29 L311.71,525.22 L311.05,525.15 L310.39,525.08 L309.73,525.01 L309.07,524.94 L308.41,524.86 L307.75,524.79 L307.09,524.72 L306.43,524.64 L305.77,524.57 L305.11,524.50 L304.45,524.42 L303.79,524.35 L303.13,524.27 L302.47,524.20 L301.81,524.12 L301.15,524.04 L300.49,523.97 L299.83,523.89 L299.17,523.82 L298.51,523.75 L297.85,523.69 L297.19,523.62 L296.53,523.54 L295.87,523.47 L295.21,523.40 L294.55,523.33 L293.89,523.26 L293.23,523.18 L292.58,523.11 L291.92,523.04 L291.26,522.96 L290.60,522.89 L289.94,522.81 L289.28,522.73 L288.63,522.65 L287.97,522.58 L287.31,522.50 L286.65,522.42 L286.00,522.34 L285.34,522.26 L284.68,522.17 L284.02,522.09 L283.37,522.01 L282.71,521.92 L282.05,521.84 L281.40,521.75 L280.74,521.67 L280.08,521.58 L279.43,521.49 L278.77,521.40 L278.11,521.31 L277.46,521.22 L276.80,521.13 L276.14,521.04 L275.49,520.94 L274.83,520.85 L274.17,520.75 L273.52,520.66 L272.86,520.56 L272.21,520.47 L271.55,520.37 L270.90,520.27 L270.24,520.17 L269.58,520.07 L268.93,519.98 L268.27,519.88 L267.62,519.78 L266.97,519.68 L266.31,519.58 L265.66,519.48 L265.00,519.38 L264.35,519.27 L263.70,519.17 L263.04,519.07 L262.39,518.96 L261.74,518.86 L261.08,518.75 L260.43,518.64 L259.78,518.53 L259.13,518.43 L258.48,518.32 L257.83,518.21 L257.17,518.09 L256.52,517.98 L255.87,517.87 L255.22,517.75 L254.57,517.64 L253.92,517.52 L253.27,517.40 L252.62,517.28 L251.97,517.16 L251.32,517.04 L250.67,516.92 L250.03,516.79 L249.38,516.67 L248.73,516.54 L248.08,516.41 L247.43,516.28 L246.78,516.15 L246.13,516.02 L245.49,515.89 L244.84,515.75 L244.19,515.62 L243.54,515.48 L242.90,515.35 L242.25,515.21 L241.60,515.07 L240.96,514.93 L240.31,514.79 L239.67,514.64 L239.02,514.48 L238.38,514.32 L237.73,514.16 L237.09,514.00 L236.44,513.84 L235.80,513.68 L235.16,513.52 L234.51,513.35 L233.87,513.19 L233.23,513.02 L232.58,512.86 L231.94,512.69 L231.30,512.52 L230.66,512.35 L230.02,512.18 L229.37,512.01 L228.73,511.84 L228.09,511.67 L227.45,511.50 L226.81,511.32 L226.17,511.15 L225.53,510.97 L224.90,510.79 L224.26,510.61 L223.62,510.43 L222.98,510.25 L222.34,510.06 L221.70,509.87 L221.07,509.69 L220.43,509.50 L219.79,509.30 L219.16,509.11 L218.52,508.92 L217.89,508.72 L217.25,508.52 L216.62,508.33 L215.99,508.13 L215.35,507.92 L214.72,507.72 L214.09,507.52 L213.46,507.31 L212.83,507.11 L212.20,506.90 L211.57,506.69 L210.94,506.48 L210.31,506.26 L209.69,506.05 L209.06,505.84 L208.43,505.62 L207.80,505.40 L207.18,505.18 L206.55,504.96 L205.92,504.74 L205.30,504.51 L204.67,504.29 L204.05,504.06 L203.42,503.83 L202.80,503.60 L202.17,503.37 L201.55,503.13 L200.93,502.90 L200.31,502.66 L199.70,502.41 L199.08,502.15 L198.47,501.89 L197.86,501.62 L197.26,501.36 L196.65,501.09 L196.05,500.82 L195.44,500.55 L194.84,500.27 L194.25,500.00 L193.65,499.71 L193.05,499.43 L192.46,499.15 L191.87,498.86 L191.27,498.57 L190.68,498.27 L190.09,497.98 L189.50,497.68 L188.91,497.37 L188.32,497.07 L187.73,496.76 L187.14,496.45 L186.56,496.14 L185.97,495.83 L185.38,495.51 L184.80,495.19 L184.22,494.87 L183.64,494.55 L183.06,494.22 L182.48,493.89 L181.90,493.56 L181.33,493.23 L180.75,492.89 L180.18,492.56 L179.61,492.22 L179.04,491.87 L178.47,491.53 L177.91,491.19 L177.34,490.84 L176.78,490.49 L176.22,490.13 L175.67,489.78 L175.11,489.42 L174.56,489.07 L174.01,488.71 L173.46,488.34 L172.92,487.98 L172.37,487.62 L171.83,487.25 L171.30,486.88 L170.76,486.51 L170.23,486.13 L169.69,485.75 L169.16,485.37 L168.63,484.98 L168.10,484.59 L167.57,484.20 L167.04,483.80 L166.52,483.41 L166.00,483.00 L165.47,482.60 L164.95,482.19 L164.43,481.78 L163.92,481.36 L163.40,480.95 L162.89,480.53 L162.38,480.11 L161.87,479.68 L161.36,479.25 L160.86,478.82 L160.36,478.39 L159.86,477.96 L159.36,477.52 L158.86,477.09 L158.37,476.65 L157.88,476.20 L157.39,475.76 L156.91,475.31 L156.42,474.87 L155.95,474.42 L155.47,473.97 L155.00,473.52 L154.53,473.06 L154.06,472.61 L153.59,472.16 L153.13,471.70 L152.67,471.24 L152.21,470.77 L151.76,470.31 L151.32,469.85 L150.88,469.39 L150.42,468.89 L149.95,468.38 L149.49,467.88 L149.04,467.36 L148.58,466.85 L148.12,466.33 L147.67,465.82 L147.22,465.29 L146.78,464.77 L146.33,464.25 L145.89,463.72 L145.45,463.19 L145.01,462.66 L144.58,462.12 L144.15,461.59 L143.72,461.05 L143.30,460.51 L142.88,459.97 L142.46,459.43 L142.05,458.88 L141.64,458.34 L141.23,457.79 L140.83,457.25 L140.43,456.70 L140.04,456.15 L139.65,455.60 L139.26,455.04 L138.88,454.49 L138.50,453.93 L138.13,453.37 L137.75,452.81 L137.38,452.24 L137.01,451.67 L136.64,451.10 L136.26,450.51 L135.89,449.96 L135.53,449.41 L135.17,448.85 L134.81,448.30 L134.46,447.74 L134.11,447.18 L133.76,446.62 L133.41,446.06 L133.07,445.49 L132.73,444.93 L132.39,444.36 L132.06,443.79 L131.73,443.22 L131.40,442.64 L131.08,442.07 L130.76,441.49 L130.45,440.92 L130.13,440.34 L129.82,439.76 L129.52,439.18 L129.22,438.60 L128.92,438.02 L128.63,437.43 L128.34,436.85 L128.05,436.27 L127.77,435.68 L127.48,435.09 L127.20,434.50 L126.92,433.91 L126.65,433.31 L126.37,432.71 L126.10,432.11 L125.83,431.51 L125.56,430.91 L125.30,430.31 L125.04,429.70 L124.78,429.10 L124.52,428.49 L124.27,427.88 L124.01,427.27 L123.77,426.66 L123.52,426.04 L123.28,425.43 L123.04,424.82 L122.81,424.20 L122.58,423.58 L122.35,422.97 L122.13,422.35 L121.91,421.73 L121.69,421.11 L121.48,420.49 L121.28,419.87 L121.07,419.25 L120.87,418.63 L120.68,418.02 L120.49,417.40 L120.31,416.78 L120.13,416.15 L119.96,415.53 L119.79,414.90 L119.62,414.27 L119.46,413.63 L119.30,413.00 L119.14,412.36 L118.99,411.72 L118.84,411.08 L118.68,410.43 L118.53,409.79 L118.39,409.14 L118.24,408.49 L118.09,407.85 L117.94,407.20 L117.79,406.55 L117.64,405.89 L117.49,405.24 L117.34,404.59 L117.19,403.94 L117.03,403.29 L116.87,402.63 L116.71,401.98 L116.55,401.33 L116.38,400.68 L116.21,400.02 L116.03,399.37 L115.84,398.72 L115.66,398.07 L115.46,397.43 L115.27,396.79 L115.08,396.15 L114.89,395.52 L114.70,394.89 L114.51,394.26 L114.33,393.63 L114.16,393.00 L113.99,392.37 L113.82,391.73 L113.65,391.09 L113.48,390.45 L113.31,389.82 L113.15,389.18 L112.99,388.54 L112.83,387.90 L112.67,387.26 L112.52,386.62 L112.37,385.98 L112.22,385.34 L112.08,384.70 L111.93,384.06 L111.79,383.41 L111.66,382.77 L111.52,382.12 L111.39,381.48 L111.25,380.83 L111.12,380.18 L110.98,379.53 L110.85,378.88 L110.72,378.22 L110.58,377.57 L110.44,376.92 L110.30,376.26 L110.17,375.61 L110.03,374.96 L109.89,374.31 L109.75,373.66 L109.61,373.01 L109.47,372.37 L109.33,371.72 L109.19,371.07Z" fill="#ff0000"/>
<path d="M455.5,334.9 V553.4 H742" fill="none" stroke="#000" stroke-width="1.1"/>
<path d="M451,553.30H455.5M451,519.70H455.5M451,486.10H455.5M451,452.50H455.5M451,418.90H455.5M451,385.30H455.5M451,351.70H455.5M453,536.50H455.5M453,502.90H455.5M453,469.30H455.5M453,435.70H455.5M453,402.10H455.5M453,368.50H455.5M453,334.90H455.5M493.45,553.4V557.4M541.20,553.4V557.4M588.95,553.4V557.4M636.70,553.4V557.4M684.45,553.4V557.4M732.20,553.4V557.4M469.57,553.4V555.6M517.33,553.4V555.6M565.08,553.4V555.6M612.83,553.4V555.6M660.58,553.4V555.6M708.33,553.4V555.6" fill="none" stroke="#000" stroke-width="1.1"/>
<text x="448.4" y="557.4" text-anchor="end" font-size="15.3">0</text>
<text x="448.4" y="523.8" text-anchor="end" font-size="15.3">1</text>
<text x="448.4" y="490.2" text-anchor="end" font-size="15.3">2</text>
<text x="448.4" y="456.6" text-anchor="end" font-size="15.3">3</text>
<text x="448.4" y="423.0" text-anchor="end" font-size="15.3">4</text>
<text x="448.4" y="389.4" text-anchor="end" font-size="15.3">5</text>
<text x="448.4" y="355.8" text-anchor="end" font-size="15.3">6</text>
<text x="493.4" y="573.3" text-anchor="middle" font-size="15">1</text>
<text x="541.2" y="573.3" text-anchor="middle" font-size="15">2</text>
<text x="589.0" y="573.3" text-anchor="middle" font-size="15">3</text>
<text x="636.7" y="573.3" text-anchor="middle" font-size="15">4</text>
<text x="684.5" y="573.3" text-anchor="middle" font-size="15">5</text>
<text x="732.2" y="573.3" text-anchor="middle" font-size="15">6</text>
<text x="532.6" y="590.6" font-size="16.8">Energy Transfer (meV)</text>
<text transform="translate(416.8,443.7) rotate(-90)" text-anchor="middle" font-size="16.5">Intensity (A.U.)</text>
<rect x="637" y="341.8" width="8" height="8" fill="#000"/>
<circle cx="641" cy="365.1" r="3.9" fill="none" stroke="#ff2020" stroke-width="1.1"/>
<path d="M629.5,384.3 H652.8" stroke="#22ee22" stroke-width="2.6"/>
<text x="655" y="348.8" font-size="15">100 K</text>
<text x="656.5" y="367.8" font-size="15">7.5 K</text>
<text x="656.8" y="386.5" font-size="15">Fit</text>
<path d="M458.60,352.50V396.50M456.40,352.50h4.4M456.40,396.50h4.4M468.50,377.50V417.50M466.30,377.50h4.4M466.30,417.50h4.4M470.80,385.60V423.60M468.60,385.60h4.4M468.60,423.60h4.4M465.60,394.80V430.80M463.40,394.80h4.4M463.40,430.80h4.4M463.80,431.20V479.20M461.60,431.20h4.4M461.60,479.20h4.4M473.60,446.90V478.90M471.40,446.90h4.4M471.40,478.90h4.4M475.10,474.50V490.50M472.90,474.50h4.4M472.90,490.50h4.4M481.20,480.90V492.90M479.00,480.90h4.4M479.00,492.90h4.4M477.80,485.20V497.20M475.60,485.20h4.4M475.60,497.20h4.4M483.80,493.30V505.30M481.60,493.30h4.4M481.60,505.30h4.4M487.20,503.70V513.70M485.00,503.70h4.4M485.00,513.70h4.4M494.60,508.70V516.70M492.40,508.70h4.4M492.40,516.70h4.4M500.00,510.70V518.70M497.80,510.70h4.4M497.80,518.70h4.4M491.20,526.10V534.10M489.00,526.10h4.4M489.00,534.10h4.4M497.30,522.80V530.80M495.10,522.80h4.4M495.10,530.80h4.4M502.00,528.20V536.20M499.80,528.20h4.4M499.80,536.20h4.4M505.30,519.40V527.40M503.10,519.40h4.4M503.10,527.40h4.4M510.00,522.10V530.10M507.80,522.10h4.4M507.80,530.10h4.4M513.40,515.40V523.40M511.20,515.40h4.4M511.20,523.40h4.4M516.00,518.00V526.00M513.80,518.00h4.4M513.80,526.00h4.4M519.40,516.70V524.70M517.20,516.70h4.4M517.20,524.70h4.4M520.70,508.00V516.00M518.50,508.00h4.4M518.50,516.00h4.4M522.80,500.00V508.00M520.60,500.00h4.4M520.60,508.00h4.4M525.40,485.20V493.20M523.20,485.20h4.4M523.20,493.20h4.4M527.20,471.50V479.50M525.00,471.50h4.4M525.00,479.50h4.4M530.00,454.09V461.51M527.80,454.09h4.4M527.80,461.51h4.4M533.10,430.57V438.83M530.90,430.57h4.4M530.90,438.83h4.4M534.80,411.86V420.74M532.60,411.86h4.4M532.60,420.74h4.4M536.80,399.36V408.64M534.60,399.36h4.4M534.60,408.64h4.4M540.20,400.78V410.02M538.00,400.78h4.4M538.00,410.02h4.4M544.40,413.59V422.41M542.20,413.59h4.4M542.20,422.41h4.4M546.00,424.67V433.13M543.80,424.67h4.4M543.80,433.13h4.4M549.40,434.84V442.96M547.20,434.84h4.4M547.20,442.96h4.4M552.00,431.89V440.11M549.80,431.89h4.4M549.80,440.11h4.4M555.30,428.02V436.38M553.10,428.02h4.4M553.10,436.38h4.4M557.00,403.32V412.48M554.80,403.32h4.4M554.80,412.48h4.4M559.00,368.41V378.59M556.80,368.41h4.4M556.80,378.59h4.4M561.60,355.13V365.67M559.40,355.13h4.4M559.40,365.67h4.4M563.70,376.93V386.87M561.50,376.93h4.4M561.50,386.87h4.4M566.20,399.36V408.64M564.00,399.36h4.4M564.00,408.64h4.4M569.10,449.50V457.10M566.90,449.50h4.4M566.90,457.10h4.4M570.60,475.93V482.47M568.40,475.93h4.4M568.40,482.47h4.4M572.60,493.02V498.78M570.40,493.02h4.4M570.40,498.78h4.4M575.00,499.28V504.72M572.80,499.28h4.4M572.80,504.72h4.4M578.00,502.67V507.93M575.80,502.67h4.4M575.80,507.93h4.4M580.00,507.40V512.60M577.80,507.40h4.4M577.80,512.60h4.4M582.70,510.80V516.00M580.50,510.80h4.4M580.50,516.00h4.4M586.00,512.80V518.00M583.80,512.80h4.4M583.80,518.00h4.4M588.10,514.80V520.00M585.90,514.80h4.4M585.90,520.00h4.4M591.00,517.40V522.60M588.80,517.40h4.4M588.80,522.60h4.4M594.10,515.50V520.70M591.90,515.50h4.4M591.90,520.70h4.4M596.00,518.40V523.60M593.80,518.40h4.4M593.80,523.60h4.4M598.10,525.50V530.70M595.90,525.50h4.4M595.90,530.70h4.4M600.50,525.50V530.70M598.30,525.50h4.4M598.30,530.70h4.4M603.00,528.90V534.10M600.80,528.90h4.4M600.80,534.10h4.4M606.40,526.90V532.10M604.20,526.90h4.4M604.20,532.10h4.4M608.50,524.40V529.60M606.30,524.40h4.4M606.30,529.60h4.4M611.10,528.20V533.40M608.90,528.20h4.4M608.90,533.40h4.4M613.80,523.50V528.70M611.60,523.50h4.4M611.60,528.70h4.4M617.80,522.80V528.00M615.60,522.80h4.4M615.60,528.00h4.4M619.50,525.40V530.60M617.30,525.40h4.4M617.30,530.60h4.4M621.80,520.20V525.40M619.60,520.20h4.4M619.60,525.40h4.4M624.50,522.40V527.60M622.30,522.40h4.4M622.30,527.60h4.4M627.20,518.80V524.00M625.00,518.80h4.4M625.00,524.00h4.4M630.60,524.20V529.40M628.40,524.20h4.4M628.40,529.40h4.4M633.20,511.40V516.60M631.00,511.40h4.4M631.00,516.60h4.4M635.30,508.80V514.00M633.10,508.80h4.4M633.10,514.00h4.4M637.50,510.40V515.60M635.30,510.40h4.4M635.30,515.60h4.4M640.00,510.10V515.30M637.80,510.10h4.4M637.80,515.30h4.4M642.60,504.10V509.30M640.40,504.10h4.4M640.40,509.30h4.4M645.30,501.34V506.66M643.10,501.34h4.4M643.10,506.66h4.4M647.30,498.56V504.04M645.10,498.56h4.4M645.10,504.04h4.4M650.00,490.97V496.83M647.80,490.97h4.4M647.80,496.83h4.4M652.00,494.15V499.85M649.80,494.15h4.4M649.80,499.85h4.4M654.70,488.21V494.19M652.50,488.21h4.4M652.50,494.19h4.4M657.40,481.35V487.65M655.20,481.35h4.4M655.20,487.65h4.4M659.40,493.02V498.78M657.20,493.02h4.4M657.20,498.78h4.4M661.40,486.16V492.24M659.20,486.16h4.4M659.20,492.24h4.4M663.40,482.78V489.02M661.20,482.78h4.4M661.20,489.02h4.4M666.10,477.26V483.74M663.90,477.26h4.4M663.90,483.74h4.4M668.50,471.74V478.46M666.30,471.74h4.4M666.30,478.46h4.4M670.50,453.79V461.21M668.30,453.79h4.4M668.30,461.21h4.4M673.40,446.04V453.76M671.20,446.04h4.4M671.20,453.76h4.4M675.90,440.44V448.36M673.70,440.44h4.4M673.70,448.36h4.4M678.50,429.24V437.56M676.30,429.24h4.4M676.30,437.56h4.4M681.00,435.96V444.04M678.80,435.96h4.4M678.80,444.04h4.4M684.00,437.79V445.81M681.80,437.79h4.4M681.80,445.81h4.4M687.60,435.25V443.35M685.40,435.25h4.4M685.40,443.35h4.4M690.30,427.11V435.49M688.10,427.11h4.4M688.10,435.49h4.4M692.90,413.08V421.92M690.70,413.08h4.4M690.70,421.92h4.4M695.40,402.31V411.49M693.20,402.31h4.4M693.20,411.49h4.4M698.10,395.91V405.29M695.90,395.91h4.4M695.90,405.29h4.4M700.00,398.35V407.65M697.80,398.35h4.4M697.80,407.65h4.4M702.40,394.79V404.21M700.20,394.79h4.4M700.20,404.21h4.4M704.50,378.05V387.95M702.30,378.05h4.4M702.30,387.95h4.4M709.80,362.23V372.57M707.60,362.23h4.4M707.60,372.57h4.4M711.90,370.13V380.27M709.70,370.13h4.4M709.70,380.27h4.4M714.00,350.87V361.53M711.80,350.87h4.4M711.80,361.53h4.4M716.10,368.01V378.19M713.90,368.01h4.4M713.90,378.19h4.4M719.30,371.25V381.35M717.10,371.25h4.4M717.10,381.35h4.4M721.40,393.78V403.22M719.20,393.78h4.4M719.20,403.22h4.4M723.50,422.73V431.27M721.30,422.73h4.4M721.30,431.27h4.4M725.60,452.87V460.33M723.40,452.87h4.4M723.40,460.33h4.4M728.00,461.54V468.66M725.80,461.54h4.4M725.80,468.66h4.4M730.70,465.62V472.58M728.50,465.62h4.4M728.50,472.58h4.4M733.00,467.56V474.44M730.80,467.56h4.4M730.80,474.44h4.4M735.40,470.42V477.18M733.20,470.42h4.4M733.20,477.18h4.4M738.10,473.17V479.83M735.90,473.17h4.4M735.90,479.83h4.4M736.10,477.26V483.74M733.90,477.26h4.4M733.90,483.74h4.4M739.40,478.59V485.01M737.20,478.59h4.4M737.20,485.01h4.4" fill="none" stroke="#ff4040" stroke-width="0.8"/>
<path d="M470.60,334.50V370.80M468.40,334.50h4.4M468.40,370.80h4.4M473.10,373.80V403.80M470.90,373.80h4.4M470.90,403.80h4.4M475.40,351.50V377.50M473.20,351.50h4.4M473.20,377.50h4.4M478.20,377.40V399.40M476.00,377.40h4.4M476.00,399.40h4.4M480.40,384.50V402.50M478.20,384.50h4.4M478.20,402.50h4.4M482.50,396.90V410.90M480.30,396.90h4.4M480.30,410.90h4.4M485.20,411.60V423.60M483.00,411.60h4.4M483.00,423.60h4.4M487.90,412.20V424.20M485.70,412.20h4.4M485.70,424.20h4.4M489.90,440.50V450.50M487.70,440.50h4.4M487.70,450.50h4.4M492.30,429.30V439.30M490.10,429.30h4.4M490.10,439.30h4.4M494.30,422.60V432.60M492.10,422.60h4.4M492.10,432.60h4.4M496.90,450.10V458.10M494.70,450.10h4.4M494.70,458.10h4.4M499.50,441.00V451.00M497.30,441.00h4.4M497.30,451.00h4.4M502.00,459.40V469.40M499.80,459.40h4.4M499.80,469.40h4.4M504.90,458.00V468.00M502.70,458.00h4.4M502.70,468.00h4.4M508.00,462.70V472.70M505.80,462.70h4.4M505.80,472.70h4.4M510.00,465.40V475.40M507.80,465.40h4.4M507.80,475.40h4.4M514.00,457.40V467.40M511.80,457.40h4.4M511.80,467.40h4.4M516.00,462.10V472.10M513.80,462.10h4.4M513.80,472.10h4.4M518.70,470.10V480.10M516.50,470.10h4.4M516.50,480.10h4.4M522.10,472.70V480.30M519.90,472.70h4.4M519.90,480.30h4.4M525.00,473.70V481.30M522.80,473.70h4.4M522.80,481.30h4.4M527.50,474.70V482.30M525.30,474.70h4.4M525.30,482.30h4.4M531.00,477.20V484.80M528.80,477.20h4.4M528.80,484.80h4.4M534.00,480.20V487.80M531.80,480.20h4.4M531.80,487.80h4.4M537.00,481.70V489.30M534.80,481.70h4.4M534.80,489.30h4.4M540.00,482.20V489.80M537.80,482.20h4.4M537.80,489.80h4.4M543.00,484.20V491.80M540.80,484.20h4.4M540.80,491.80h4.4M546.00,486.20V493.80M543.80,486.20h4.4M543.80,493.80h4.4M549.00,488.20V495.80M546.80,488.20h4.4M546.80,495.80h4.4M551.50,490.20V497.80M549.30,490.20h4.4M549.30,497.80h4.4M553.80,494.10V501.70M551.60,494.10h4.4M551.60,501.70h4.4M557.00,484.20V491.80M554.80,484.20h4.4M554.80,491.80h4.4M558.50,482.70V490.30M556.30,482.70h4.4M556.30,490.30h4.4M561.00,489.20V496.80M558.80,489.20h4.4M558.80,496.80h4.4M564.00,493.20V500.80M561.80,493.20h4.4M561.80,500.80h4.4M566.60,494.80V502.40M564.40,494.80h4.4M564.40,502.40h4.4M570.00,490.20V497.80M567.80,490.20h4.4M567.80,497.80h4.4M573.00,485.20V492.80M570.80,485.20h4.4M570.80,492.80h4.4M575.00,489.20V496.80M572.80,489.20h4.4M572.80,496.80h4.4M577.30,493.50V501.10M575.10,493.50h4.4M575.10,501.10h4.4M580.00,488.20V495.80M577.80,488.20h4.4M577.80,495.80h4.4M584.00,483.40V491.00M581.80,483.40h4.4M581.80,491.00h4.4M586.00,488.20V495.80M583.80,488.20h4.4M583.80,495.80h4.4M589.00,490.20V497.80M586.80,490.20h4.4M586.80,497.80h4.4M592.10,481.40V489.00M589.90,481.40h4.4M589.90,489.00h4.4M595.00,484.20V491.80M592.80,484.20h4.4M592.80,491.80h4.4M598.00,487.20V494.80M595.80,487.20h4.4M595.80,494.80h4.4M600.40,486.10V493.70M598.20,486.10h4.4M598.20,493.70h4.4M602.50,484.20V491.80M600.30,484.20h4.4M600.30,491.80h4.4M604.40,482.70V490.30M602.20,482.70h4.4M602.20,490.30h4.4M606.80,492.10V499.70M604.60,492.10h4.4M604.60,499.70h4.4M609.80,484.70V492.30M607.60,484.70h4.4M607.60,492.30h4.4M612.00,480.20V487.80M609.80,480.20h4.4M609.80,487.80h4.4M614.50,477.40V485.00M612.30,477.40h4.4M612.30,485.00h4.4M618.50,475.40V483.00M616.30,475.40h4.4M616.30,483.00h4.4M621.20,487.40V495.00M619.00,487.40h4.4M619.00,495.00h4.4M623.20,482.70V490.30M621.00,482.70h4.4M621.00,490.30h4.4M626.50,478.70V486.30M624.30,478.70h4.4M624.30,486.30h4.4M628.50,481.20V488.80M626.30,481.20h4.4M626.30,488.80h4.4M630.60,484.10V491.70M628.40,484.10h4.4M628.40,491.70h4.4M633.20,472.00V479.60M631.00,472.00h4.4M631.00,479.60h4.4M635.30,476.70V484.30M633.10,476.70h4.4M633.10,484.30h4.4M638.60,476.00V483.60M636.40,476.00h4.4M636.40,483.60h4.4M640.60,479.40V487.00M638.40,479.40h4.4M638.40,487.00h4.4M642.00,460.60V468.20M639.80,460.60h4.4M639.80,468.20h4.4M645.30,471.30V478.90M643.10,471.30h4.4M643.10,478.90h4.4M647.30,473.20V480.80M645.10,473.20h4.4M645.10,480.80h4.4M649.30,472.70V480.30M647.10,472.70h4.4M647.10,480.30h4.4M652.70,474.00V481.60M650.50,474.00h4.4M650.50,481.60h4.4M655.00,469.20V476.80M652.80,469.20h4.4M652.80,476.80h4.4M657.40,465.30V472.90M655.20,465.30h4.4M655.20,472.90h4.4M659.50,470.20V477.80M657.30,470.20h4.4M657.30,477.80h4.4M661.40,472.70V480.30M659.20,472.70h4.4M659.20,480.30h4.4M664.10,470.70V478.30M661.90,470.70h4.4M661.90,478.30h4.4M666.10,462.60V470.20M663.90,462.60h4.4M663.90,470.20h4.4M669.00,468.20V475.80M666.80,468.20h4.4M666.80,475.80h4.4M671.00,466.20V473.80M668.80,466.20h4.4M668.80,473.80h4.4M673.70,463.30V470.90M671.50,463.30h4.4M671.50,470.90h4.4M675.70,469.30V476.90M673.50,469.30h4.4M673.50,476.90h4.4M677.70,461.90V469.50M675.50,461.90h4.4M675.50,469.50h4.4M681.10,472.70V480.30M678.90,472.70h4.4M678.90,480.30h4.4M683.00,468.20V475.80M680.80,468.20h4.4M680.80,475.80h4.4M685.10,463.90V471.50M682.90,463.90h4.4M682.90,471.50h4.4M687.10,470.00V477.60M684.90,470.00h4.4M684.90,477.60h4.4M689.10,465.30V472.90M686.90,465.30h4.4M686.90,472.90h4.4M691.00,470.20V477.80M688.80,470.20h4.4M688.80,477.80h4.4M693.20,472.00V479.60M691.00,472.00h4.4M691.00,479.60h4.4M695.00,473.20V480.80M692.80,473.20h4.4M692.80,480.80h4.4M697.20,473.30V480.90M695.00,473.30h4.4M695.00,480.90h4.4M699.90,475.30V482.90M697.70,475.30h4.4M697.70,482.90h4.4M702.60,478.00V485.60M700.40,478.00h4.4M700.40,485.60h4.4M705.90,476.00V483.60M703.70,476.00h4.4M703.70,483.60h4.4M708.00,478.20V485.80M705.80,478.20h4.4M705.80,485.80h4.4M709.30,483.40V491.00M707.10,483.40h4.4M707.10,491.00h4.4M710.60,477.40V485.00M708.40,477.40h4.4M708.40,485.00h4.4M713.00,484.20V491.80M710.80,484.20h4.4M710.80,491.80h4.4M714.00,488.10V495.70M711.80,488.10h4.4M711.80,495.70h4.4M716.60,482.00V489.60M714.40,482.00h4.4M714.40,489.60h4.4M718.00,489.40V497.00M715.80,489.40h4.4M715.80,497.00h4.4M721.30,489.40V497.00M719.10,489.40h4.4M719.10,497.00h4.4M723.30,495.50V503.10M721.10,495.50h4.4M721.10,503.10h4.4M726.70,492.80V500.40M724.50,492.80h4.4M724.50,500.40h4.4M728.50,493.20V500.80M726.30,493.20h4.4M726.30,500.80h4.4M730.70,493.40V501.00M728.50,493.40h4.4M728.50,501.00h4.4M733.40,498.80V506.40M731.20,498.80h4.4M731.20,506.40h4.4M735.40,506.20V513.80M733.20,506.20h4.4M733.20,513.80h4.4M737.00,505.20V512.80M734.80,505.20h4.4M734.80,512.80h4.4M738.80,507.50V515.10M736.60,507.50h4.4M736.60,515.10h4.4M740.80,510.20V517.80M738.60,510.20h4.4M738.60,517.80h4.4" fill="none" stroke="#404040" stroke-width="0.8"/>
<path d="M467.95,349.95h5.3v5.3h-5.3zM470.45,386.15h5.3v5.3h-5.3zM472.75,361.85h5.3v5.3h-5.3zM475.55,385.75h5.3v5.3h-5.3zM477.75,390.85h5.3v5.3h-5.3zM479.85,401.25h5.3v5.3h-5.3zM482.55,414.95h5.3v5.3h-5.3zM485.25,415.55h5.3v5.3h-5.3zM487.25,442.85h5.3v5.3h-5.3zM489.65,431.65h5.3v5.3h-5.3zM491.65,424.95h5.3v5.3h-5.3zM494.25,451.45h5.3v5.3h-5.3zM496.85,443.35h5.3v5.3h-5.3zM499.35,461.75h5.3v5.3h-5.3zM502.25,460.35h5.3v5.3h-5.3zM505.35,465.05h5.3v5.3h-5.3zM507.35,467.75h5.3v5.3h-5.3zM511.35,459.75h5.3v5.3h-5.3zM513.35,464.45h5.3v5.3h-5.3zM516.05,472.45h5.3v5.3h-5.3zM519.45,473.85h5.3v5.3h-5.3zM522.35,474.85h5.3v5.3h-5.3zM524.85,475.85h5.3v5.3h-5.3zM528.35,478.35h5.3v5.3h-5.3zM531.35,481.35h5.3v5.3h-5.3zM534.35,482.85h5.3v5.3h-5.3zM537.35,483.35h5.3v5.3h-5.3zM540.35,485.35h5.3v5.3h-5.3zM543.35,487.35h5.3v5.3h-5.3zM546.35,489.35h5.3v5.3h-5.3zM548.85,491.35h5.3v5.3h-5.3zM551.15,495.25h5.3v5.3h-5.3zM554.35,485.35h5.3v5.3h-5.3zM555.85,483.85h5.3v5.3h-5.3zM558.35,490.35h5.3v5.3h-5.3zM561.35,494.35h5.3v5.3h-5.3zM563.95,495.95h5.3v5.3h-5.3zM567.35,491.35h5.3v5.3h-5.3zM570.35,486.35h5.3v5.3h-5.3zM572.35,490.35h5.3v5.3h-5.3zM574.65,494.65h5.3v5.3h-5.3zM577.35,489.35h5.3v5.3h-5.3zM581.35,484.55h5.3v5.3h-5.3zM583.35,489.35h5.3v5.3h-5.3zM586.35,491.35h5.3v5.3h-5.3zM589.45,482.55h5.3v5.3h-5.3zM592.35,485.35h5.3v5.3h-5.3zM595.35,488.35h5.3v5.3h-5.3zM597.75,487.25h5.3v5.3h-5.3zM599.85,485.35h5.3v5.3h-5.3zM601.75,483.85h5.3v5.3h-5.3zM604.15,493.25h5.3v5.3h-5.3zM607.15,485.85h5.3v5.3h-5.3zM609.35,481.35h5.3v5.3h-5.3zM611.85,478.55h5.3v5.3h-5.3zM615.85,476.55h5.3v5.3h-5.3zM618.55,488.55h5.3v5.3h-5.3zM620.55,483.85h5.3v5.3h-5.3zM623.85,479.85h5.3v5.3h-5.3zM625.85,482.35h5.3v5.3h-5.3zM627.95,485.25h5.3v5.3h-5.3zM630.55,473.15h5.3v5.3h-5.3zM632.65,477.85h5.3v5.3h-5.3zM635.95,477.15h5.3v5.3h-5.3zM637.95,480.55h5.3v5.3h-5.3zM639.35,461.75h5.3v5.3h-5.3zM642.65,472.45h5.3v5.3h-5.3zM644.65,474.35h5.3v5.3h-5.3zM646.65,473.85h5.3v5.3h-5.3zM650.05,475.15h5.3v5.3h-5.3zM652.35,470.35h5.3v5.3h-5.3zM654.75,466.45h5.3v5.3h-5.3zM656.85,471.35h5.3v5.3h-5.3zM658.75,473.85h5.3v5.3h-5.3zM661.45,471.85h5.3v5.3h-5.3zM663.45,463.75h5.3v5.3h-5.3zM666.35,469.35h5.3v5.3h-5.3zM668.35,467.35h5.3v5.3h-5.3zM671.05,464.45h5.3v5.3h-5.3zM673.05,470.45h5.3v5.3h-5.3zM675.05,463.05h5.3v5.3h-5.3zM678.45,473.85h5.3v5.3h-5.3zM680.35,469.35h5.3v5.3h-5.3zM682.45,465.05h5.3v5.3h-5.3zM684.45,471.15h5.3v5.3h-5.3zM686.45,466.45h5.3v5.3h-5.3zM688.35,471.35h5.3v5.3h-5.3zM690.55,473.15h5.3v5.3h-5.3zM692.35,474.35h5.3v5.3h-5.3zM694.55,474.45h5.3v5.3h-5.3zM697.25,476.45h5.3v5.3h-5.3zM699.95,479.15h5.3v5.3h-5.3zM703.25,477.15h5.3v5.3h-5.3zM705.35,479.35h5.3v5.3h-5.3zM706.65,484.55h5.3v5.3h-5.3zM707.95,478.55h5.3v5.3h-5.3zM710.35,485.35h5.3v5.3h-5.3zM711.35,489.25h5.3v5.3h-5.3zM713.95,483.15h5.3v5.3h-5.3zM715.35,490.55h5.3v5.3h-5.3zM718.65,490.55h5.3v5.3h-5.3zM720.65,496.65h5.3v5.3h-5.3zM724.05,493.95h5.3v5.3h-5.3zM725.85,494.35h5.3v5.3h-5.3zM728.05,494.55h5.3v5.3h-5.3zM730.75,499.95h5.3v5.3h-5.3zM732.75,507.35h5.3v5.3h-5.3zM734.35,506.35h5.3v5.3h-5.3zM736.15,508.65h5.3v5.3h-5.3zM738.15,511.35h5.3v5.3h-5.3z" fill="#000"/>
<path d="M455.90,374.50a2.7,2.7 0 1 0 5.4,0a2.7,2.7 0 1 0 -5.4,0M465.80,397.50a2.7,2.7 0 1 0 5.4,0a2.7,2.7 0 1 0 -5.4,0M468.10,404.60a2.7,2.7 0 1 0 5.4,0a2.7,2.7 0 1 0 -5.4,0M462.90,412.80a2.7,2.7 0 1 0 5.4,0a2.7,2.7 0 1 0 -5.4,0M461.10,455.20a2.7,2.7 0 1 0 5.4,0a2.7,2.7 0 1 0 -5.4,0M470.90,462.90a2.7,2.7 0 1 0 5.4,0a2.7,2.7 0 1 0 -5.4,0M472.40,482.50a2.7,2.7 0 1 0 5.4,0a2.7,2.7 0 1 0 -5.4,0M478.50,486.90a2.7,2.7 0 1 0 5.4,0a2.7,2.7 0 1 0 -5.4,0M475.10,491.20a2.7,2.7 0 1 0 5.4,0a2.7,2.7 0 1 0 -5.4,0M481.10,499.30a2.7,2.7 0 1 0 5.4,0a2.7,2.7 0 1 0 -5.4,0M484.50,508.70a2.7,2.7 0 1 0 5.4,0a2.7,2.7 0 1 0 -5.4,0M491.90,512.70a2.7,2.7 0 1 0 5.4,0a2.7,2.7 0 1 0 -5.4,0M497.30,514.70a2.7,2.7 0 1 0 5.4,0a2.7,2.7 0 1 0 -5.4,0M488.50,530.10a2.7,2.7 0 1 0 5.4,0a2.7,2.7 0 1 0 -5.4,0M494.60,526.80a2.7,2.7 0 1 0 5.4,0a2.7,2.7 0 1 0 -5.4,0M499.30,532.20a2.7,2.7 0 1 0 5.4,0a2.7,2.7 0 1 0 -5.4,0M502.60,523.40a2.7,2.7 0 1 0 5.4,0a2.7,2.7 0 1 0 -5.4,0M507.30,526.10a2.7,2.7 0 1 0 5.4,0a2.7,2.7 0 1 0 -5.4,0M510.70,519.40a2.7,2.7 0 1 0 5.4,0a2.7,2.7 0 1 0 -5.4,0M513.30,522.00a2.7,2.7 0 1 0 5.4,0a2.7,2.7 0 1 0 -5.4,0M516.70,520.70a2.7,2.7 0 1 0 5.4,0a2.7,2.7 0 1 0 -5.4,0M518.00,512.00a2.7,2.7 0 1 0 5.4,0a2.7,2.7 0 1 0 -5.4,0M520.10,504.00a2.7,2.7 0 1 0 5.4,0a2.7,2.7 0 1 0 -5.4,0M522.70,489.20a2.7,2.7 0 1 0 5.4,0a2.7,2.7 0 1 0 -5.4,0M524.50,475.50a2.7,2.7 0 1 0 5.4,0a2.7,2.7 0 1 0 -5.4,0M527.30,457.80a2.7,2.7 0 1 0 5.4,0a2.7,2.7 0 1 0 -5.4,0M530.40,434.70a2.7,2.7 0 1 0 5.4,0a2.7,2.7 0 1 0 -5.4,0M532.10,416.30a2.7,2.7 0 1 0 5.4,0a2.7,2.7 0 1 0 -5.4,0M534.10,404.00a2.7,2.7 0 1 0 5.4,0a2.7,2.7 0 1 0 -5.4,0M537.50,405.40a2.7,2.7 0 1 0 5.4,0a2.7,2.7 0 1 0 -5.4,0M541.70,418.00a2.7,2.7 0 1 0 5.4,0a2.7,2.7 0 1 0 -5.4,0M543.30,428.90a2.7,2.7 0 1 0 5.4,0a2.7,2.7 0 1 0 -5.4,0M546.70,438.90a2.7,2.7 0 1 0 5.4,0a2.7,2.7 0 1 0 -5.4,0M549.30,436.00a2.7,2.7 0 1 0 5.4,0a2.7,2.7 0 1 0 -5.4,0M552.60,432.20a2.7,2.7 0 1 0 5.4,0a2.7,2.7 0 1 0 -5.4,0M554.30,407.90a2.7,2.7 0 1 0 5.4,0a2.7,2.7 0 1 0 -5.4,0M556.30,373.50a2.7,2.7 0 1 0 5.4,0a2.7,2.7 0 1 0 -5.4,0M558.90,360.40a2.7,2.7 0 1 0 5.4,0a2.7,2.7 0 1 0 -5.4,0M561.00,381.90a2.7,2.7 0 1 0 5.4,0a2.7,2.7 0 1 0 -5.4,0M563.50,404.00a2.7,2.7 0 1 0 5.4,0a2.7,2.7 0 1 0 -5.4,0M566.40,453.30a2.7,2.7 0 1 0 5.4,0a2.7,2.7 0 1 0 -5.4,0M567.90,479.20a2.7,2.7 0 1 0 5.4,0a2.7,2.7 0 1 0 -5.4,0M569.90,495.90a2.7,2.7 0 1 0 5.4,0a2.7,2.7 0 1 0 -5.4,0M572.30,502.00a2.7,2.7 0 1 0 5.4,0a2.7,2.7 0 1 0 -5.4,0M575.30,505.30a2.7,2.7 0 1 0 5.4,0a2.7,2.7 0 1 0 -5.4,0M577.30,510.00a2.7,2.7 0 1 0 5.4,0a2.7,2.7 0 1 0 -5.4,0M580.00,513.40a2.7,2.7 0 1 0 5.4,0a2.7,2.7 0 1 0 -5.4,0M583.30,515.40a2.7,2.7 0 1 0 5.4,0a2.7,2.7 0 1 0 -5.4,0M585.40,517.40a2.7,2.7 0 1 0 5.4,0a2.7,2.7 0 1 0 -5.4,0M588.30,520.00a2.7,2.7 0 1 0 5.4,0a2.7,2.7 0 1 0 -5.4,0M591.40,518.10a2.7,2.7 0 1 0 5.4,0a2.7,2.7 0 1 0 -5.4,0M593.30,521.00a2.7,2.7 0 1 0 5.4,0a2.7,2.7 0 1 0 -5.4,0M595.40,528.10a2.7,2.7 0 1 0 5.4,0a2.7,2.7 0 1 0 -5.4,0M597.80,528.10a2.7,2.7 0 1 0 5.4,0a2.7,2.7 0 1 0 -5.4,0M600.30,531.50a2.7,2.7 0 1 0 5.4,0a2.7,2.7 0 1 0 -5.4,0M603.70,529.50a2.7,2.7 0 1 0 5.4,0a2.7,2.7 0 1 0 -5.4,0M605.80,527.00a2.7,2.7 0 1 0 5.4,0a2.7,2.7 0 1 0 -5.4,0M608.40,530.80a2.7,2.7 0 1 0 5.4,0a2.7,2.7 0 1 0 -5.4,0M611.10,526.10a2.7,2.7 0 1 0 5.4,0a2.7,2.7 0 1 0 -5.4,0M615.10,525.40a2.7,2.7 0 1 0 5.4,0a2.7,2.7 0 1 0 -5.4,0M616.80,528.00a2.7,2.7 0 1 0 5.4,0a2.7,2.7 0 1 0 -5.4,0M619.10,522.80a2.7,2.7 0 1 0 5.4,0a2.7,2.7 0 1 0 -5.4,0M621.80,525.00a2.7,2.7 0 1 0 5.4,0a2.7,2.7 0 1 0 -5.4,0M624.50,521.40a2.7,2.7 0 1 0 5.4,0a2.7,2.7 0 1 0 -5.4,0M627.90,526.80a2.7,2.7 0 1 0 5.4,0a2.7,2.7 0 1 0 -5.4,0M630.50,514.00a2.7,2.7 0 1 0 5.4,0a2.7,2.7 0 1 0 -5.4,0M632.60,511.40a2.7,2.7 0 1 0 5.4,0a2.7,2.7 0 1 0 -5.4,0M634.80,513.00a2.7,2.7 0 1 0 5.4,0a2.7,2.7 0 1 0 -5.4,0M637.30,512.70a2.7,2.7 0 1 0 5.4,0a2.7,2.7 0 1 0 -5.4,0M639.90,506.70a2.7,2.7 0 1 0 5.4,0a2.7,2.7 0 1 0 -5.4,0M642.60,504.00a2.7,2.7 0 1 0 5.4,0a2.7,2.7 0 1 0 -5.4,0M644.60,501.30a2.7,2.7 0 1 0 5.4,0a2.7,2.7 0 1 0 -5.4,0M647.30,493.90a2.7,2.7 0 1 0 5.4,0a2.7,2.7 0 1 0 -5.4,0M649.30,497.00a2.7,2.7 0 1 0 5.4,0a2.7,2.7 0 1 0 -5.4,0M652.00,491.20a2.7,2.7 0 1 0 5.4,0a2.7,2.7 0 1 0 -5.4,0M654.70,484.50a2.7,2.7 0 1 0 5.4,0a2.7,2.7 0 1 0 -5.4,0M656.70,495.90a2.7,2.7 0 1 0 5.4,0a2.7,2.7 0 1 0 -5.4,0M658.70,489.20a2.7,2.7 0 1 0 5.4,0a2.7,2.7 0 1 0 -5.4,0M660.70,485.90a2.7,2.7 0 1 0 5.4,0a2.7,2.7 0 1 0 -5.4,0M663.40,480.50a2.7,2.7 0 1 0 5.4,0a2.7,2.7 0 1 0 -5.4,0M665.80,475.10a2.7,2.7 0 1 0 5.4,0a2.7,2.7 0 1 0 -5.4,0M667.80,457.50a2.7,2.7 0 1 0 5.4,0a2.7,2.7 0 1 0 -5.4,0M670.70,449.90a2.7,2.7 0 1 0 5.4,0a2.7,2.7 0 1 0 -5.4,0M673.20,444.40a2.7,2.7 0 1 0 5.4,0a2.7,2.7 0 1 0 -5.4,0M675.80,433.40a2.7,2.7 0 1 0 5.4,0a2.7,2.7 0 1 0 -5.4,0M678.30,440.00a2.7,2.7 0 1 0 5.4,0a2.7,2.7 0 1 0 -5.4,0M681.30,441.80a2.7,2.7 0 1 0 5.4,0a2.7,2.7 0 1 0 -5.4,0M684.90,439.30a2.7,2.7 0 1 0 5.4,0a2.7,2.7 0 1 0 -5.4,0M687.60,431.30a2.7,2.7 0 1 0 5.4,0a2.7,2.7 0 1 0 -5.4,0M690.20,417.50a2.7,2.7 0 1 0 5.4,0a2.7,2.7 0 1 0 -5.4,0M692.70,406.90a2.7,2.7 0 1 0 5.4,0a2.7,2.7 0 1 0 -5.4,0M695.40,400.60a2.7,2.7 0 1 0 5.4,0a2.7,2.7 0 1 0 -5.4,0M697.30,403.00a2.7,2.7 0 1 0 5.4,0a2.7,2.7 0 1 0 -5.4,0M699.70,399.50a2.7,2.7 0 1 0 5.4,0a2.7,2.7 0 1 0 -5.4,0M701.80,383.00a2.7,2.7 0 1 0 5.4,0a2.7,2.7 0 1 0 -5.4,0M707.10,367.40a2.7,2.7 0 1 0 5.4,0a2.7,2.7 0 1 0 -5.4,0M709.20,375.20a2.7,2.7 0 1 0 5.4,0a2.7,2.7 0 1 0 -5.4,0M711.30,356.20a2.7,2.7 0 1 0 5.4,0a2.7,2.7 0 1 0 -5.4,0M713.40,373.10a2.7,2.7 0 1 0 5.4,0a2.7,2.7 0 1 0 -5.4,0M716.60,376.30a2.7,2.7 0 1 0 5.4,0a2.7,2.7 0 1 0 -5.4,0M718.70,398.50a2.7,2.7 0 1 0 5.4,0a2.7,2.7 0 1 0 -5.4,0M720.80,427.00a2.7,2.7 0 1 0 5.4,0a2.7,2.7 0 1 0 -5.4,0M722.90,456.60a2.7,2.7 0 1 0 5.4,0a2.7,2.7 0 1 0 -5.4,0M725.30,465.10a2.7,2.7 0 1 0 5.4,0a2.7,2.7 0 1 0 -5.4,0M728.00,469.10a2.7,2.7 0 1 0 5.4,0a2.7,2.7 0 1 0 -5.4,0M730.30,471.00a2.7,2.7 0 1 0 5.4,0a2.7,2.7 0 1 0 -5.4,0M732.70,473.80a2.7,2.7 0 1 0 5.4,0a2.7,2.7 0 1 0 -5.4,0M735.40,476.50a2.7,2.7 0 1 0 5.4,0a2.7,2.7 0 1 0 -5.4,0M733.40,480.50a2.7,2.7 0 1 0 5.4,0a2.7,2.7 0 1 0 -5.4,0M736.70,481.80a2.7,2.7 0 1 0 5.4,0a2.7,2.7 0 1 0 -5.4,0" fill="none" stroke="#ff1a1a" stroke-width="0.9"/>
<path d="M458.30,334.50 L458.43,335.53 L458.56,336.55 L458.69,337.58 L458.82,338.60 L458.95,339.63 L459.08,340.65 L459.21,341.68 L459.34,342.71 L459.47,343.73 L459.60,344.76 L459.72,345.78 L459.85,346.81 L459.98,347.84 L460.10,348.86 L460.22,349.89 L460.35,350.92 L460.47,351.94 L460.59,352.97 L460.71,354.00 L460.82,355.02 L460.94,356.05 L461.05,357.08 L461.17,358.11 L461.28,359.13 L461.39,360.16 L461.50,361.19 L461.60,362.22 L461.71,363.25 L461.82,364.28 L461.92,365.30 L462.03,366.33 L462.13,367.36 L462.23,368.39 L462.33,369.42 L462.44,370.45 L462.54,371.48 L462.64,372.51 L462.74,373.54 L462.84,374.56 L462.94,375.59 L463.04,376.62 L463.15,377.65 L463.25,378.68 L463.35,379.71 L463.45,380.74 L463.56,381.77 L463.66,382.80 L463.76,383.82 L463.87,384.85 L463.97,385.88 L464.08,386.91 L464.18,387.94 L464.29,388.97 L464.39,390.00 L464.50,391.02 L464.60,392.05 L464.71,393.08 L464.81,394.11 L464.92,395.14 L465.02,396.17 L465.13,397.20 L465.23,398.22 L465.33,399.25 L465.44,400.28 L465.54,401.31 L465.64,402.34 L465.75,403.37 L465.85,404.40 L465.95,405.43 L466.05,406.46 L466.16,407.49 L466.26,408.51 L466.36,409.54 L466.47,410.57 L466.58,411.60 L466.68,412.63 L466.79,413.66 L466.90,414.68 L467.02,415.71 L467.13,416.74 L467.25,417.77 L467.37,418.79 L467.50,419.82 L467.62,420.85 L467.75,421.87 L467.89,422.90 L468.02,423.92 L468.16,424.95 L468.31,425.97 L468.45,426.99 L468.60,428.02 L468.76,429.04 L468.91,430.06 L469.07,431.08 L469.23,432.10 L469.39,433.13 L469.55,434.15 L469.71,435.17 L469.88,436.19 L470.04,437.21 L470.21,438.23 L470.38,439.25 L470.54,440.27 L470.71,441.29 L470.88,442.31 L471.05,443.33 L471.22,444.35 L471.39,445.37 L471.56,446.39 L471.73,447.41 L471.90,448.43 L472.07,449.45 L472.25,450.47 L472.42,451.49 L472.60,452.51 L472.78,453.53 L472.96,454.54 L473.14,455.56 L473.32,456.58 L473.51,457.60 L473.70,458.61 L473.88,459.63 L474.08,460.64 L474.27,461.66 L474.46,462.67 L474.66,463.69 L474.86,464.70 L475.06,465.72 L475.26,466.73 L475.47,467.74 L475.67,468.76 L475.88,469.77 L476.10,470.78 L476.31,471.80 L476.52,472.81 L476.74,473.82 L476.96,474.83 L477.19,475.84 L477.41,476.85 L477.64,477.86 L477.87,478.87 L478.10,479.88 L478.34,480.89 L478.58,481.90 L478.83,482.90 L479.08,483.91 L479.34,484.91 L479.60,485.91 L479.86,486.91 L480.14,487.91 L480.42,488.90 L480.70,489.89 L480.99,490.88 L481.29,491.87 L481.60,492.86 L481.91,493.84 L482.23,494.82 L482.56,495.80 L482.90,496.77 L483.25,497.74 L483.61,498.70 L483.98,499.67 L484.36,500.62 L484.76,501.58 L485.17,502.53 L485.59,503.47 L486.03,504.41 L486.48,505.35 L486.95,506.28 L487.43,507.21 L487.93,508.13 L488.45,509.04 L488.99,509.95 L489.55,510.85 L490.13,511.73 L490.72,512.60 L491.35,513.45 L491.99,514.28 L492.66,515.09 L493.35,515.86 L494.08,516.61 L494.82,517.32 L495.60,518.00 L496.41,518.64 L497.24,519.23 L498.11,519.78 L499.01,520.28 L499.93,520.75 L500.87,521.17 L501.84,521.56 L502.82,521.92 L503.81,522.25 L504.81,522.55 L505.82,522.82 L506.83,523.06 L507.85,523.25 L508.88,523.36 L509.91,523.40 L510.95,523.34 L511.99,523.18 L512.99,522.91 L513.95,522.52 L514.86,522.02 L515.70,521.42 L516.49,520.74 L517.23,520.00 L517.93,519.22 L518.57,518.41 L519.18,517.56 L519.75,516.69 L520.28,515.80 L520.78,514.89 L521.25,513.96 L521.68,513.02 L522.10,512.07 L522.48,511.10 L522.85,510.13 L523.20,509.15 L523.53,508.17 L523.84,507.18 L524.13,506.19 L524.41,505.19 L524.67,504.19 L524.92,503.18 L525.15,502.17 L525.38,501.16 L525.59,500.15 L525.79,499.13 L525.98,498.12 L526.16,497.10 L526.34,496.08 L526.51,495.06 L526.67,494.03 L526.82,493.01 L526.97,491.99 L527.12,490.97 L527.26,489.94 L527.40,488.92 L527.53,487.89 L527.66,486.87 L527.78,485.84 L527.90,484.81 L528.02,483.79 L528.14,482.76 L528.25,481.73 L528.36,480.70 L528.47,479.67 L528.58,478.65 L528.69,477.62 L528.80,476.59 L528.90,475.56 L529.01,474.53 L529.12,473.50 L529.23,472.47 L529.33,471.44 L529.44,470.41 L529.55,469.38 L529.66,468.35 L529.76,467.32 L529.87,466.29 L529.97,465.26 L530.07,464.23 L530.18,463.20 L530.28,462.17 L530.38,461.14 L530.48,460.12 L530.57,459.09 L530.67,458.06 L530.76,457.03 L530.85,456.01 L530.95,454.98 L531.03,453.96 L531.12,452.93 L531.21,451.91 L531.29,450.89 L531.38,449.86 L531.46,448.84 L531.54,447.82 L531.63,446.79 L531.71,445.77 L531.80,444.74 L531.88,443.72 L531.97,442.69 L532.06,441.66 L532.15,440.63 L532.24,439.60 L532.34,438.57 L532.43,437.54 L532.53,436.51 L532.63,435.47 L532.74,434.44 L532.85,433.40 L532.96,432.36 L533.08,431.31 L533.20,430.27 L533.33,429.22 L533.46,428.17 L533.59,427.12 L533.73,426.07 L533.87,425.02 L534.01,423.97 L534.15,422.93 L534.29,421.88 L534.43,420.84 L534.57,419.80 L534.71,418.77 L534.84,417.74 L534.97,416.72 L535.10,415.70 L535.22,414.69 L535.34,413.69 L535.45,412.70 L535.55,411.71 L535.65,410.74 L535.74,409.78 L535.82,408.82 L535.91,407.87 L536.02,406.92 L536.14,405.96 L536.29,404.99 L536.49,404.00 L536.73,402.99 L537.02,401.95 L537.38,400.87 L537.82,399.76 L538.34,398.61 L538.93,397.47 L539.57,396.47 L540.22,395.80 L540.85,395.61 L541.43,395.96 L541.97,396.75 L542.46,397.85 L542.90,399.13 L543.30,400.44 L543.65,401.71 L543.96,402.93 L544.23,404.09 L544.47,405.22 L544.67,406.30 L544.85,407.34 L545.01,408.34 L545.14,409.32 L545.26,410.27 L545.37,411.19 L545.47,412.10 L545.56,412.99 L545.65,413.86 L545.75,414.72 L545.85,415.58 L545.95,416.44 L546.07,417.29 L546.20,418.16 L546.33,419.04 L546.47,419.94 L546.63,420.87 L546.79,421.83 L546.96,422.82 L547.14,423.85 L547.33,424.93 L547.54,426.06 L547.75,427.24 L547.98,428.49 L548.21,429.81 L548.46,431.19 L548.72,432.59 L549.01,433.90 L549.32,435.03 L549.67,435.88 L550.06,436.34 L550.49,436.33 L550.97,435.85 L551.47,434.99 L551.96,433.88 L552.44,432.63 L552.88,431.35 L553.27,430.12 L553.61,428.95 L553.90,427.83 L554.14,426.76 L554.36,425.73 L554.54,424.72 L554.69,423.75 L554.82,422.80 L554.92,421.86 L555.02,420.93 L555.10,420.00 L555.18,419.07 L555.26,418.14 L555.34,417.19 L555.43,416.22 L555.53,415.23 L555.62,414.24 L555.72,413.22 L555.83,412.20 L555.94,411.17 L556.05,410.12 L556.16,409.07 L556.27,408.01 L556.39,406.94 L556.51,405.87 L556.62,404.80 L556.74,403.72 L556.85,402.64 L556.97,401.56 L557.09,400.49 L557.20,399.42 L557.32,398.36 L557.43,397.31 L557.55,396.27 L557.67,395.24 L557.78,394.23 L557.90,393.24 L558.02,392.26 L558.13,391.31 L558.25,390.37 L558.37,389.47 L558.49,388.58 L558.61,387.70 L558.73,386.81 L558.85,385.91 L558.98,384.98 L559.10,384.01 L559.23,382.99 L559.36,381.90 L559.50,380.74 L559.64,379.50 L559.78,378.15 L559.93,376.71 L560.09,375.25 L560.26,373.88 L560.46,372.72 L560.68,371.86 L560.93,371.42 L561.22,371.50 L561.54,372.10 L561.87,373.08 L562.20,374.31 L562.52,375.62 L562.79,376.89 L563.03,378.06 L563.23,379.16 L563.41,380.19 L563.56,381.18 L563.70,382.12 L563.83,383.05 L563.96,383.97 L564.08,384.89 L564.22,385.83 L564.36,386.79 L564.51,387.77 L564.67,388.76 L564.83,389.76 L564.99,390.78 L565.15,391.81 L565.31,392.85 L565.47,393.90 L565.63,394.95 L565.78,396.00 L565.93,397.06 L566.07,398.12 L566.20,399.18 L566.33,400.23 L566.44,401.28 L566.54,402.33 L566.63,403.38 L566.72,404.42 L566.79,405.45 L566.86,406.49 L566.92,407.52 L566.98,408.56 L567.03,409.59 L567.08,410.61 L567.12,411.64 L567.16,412.67 L567.19,413.69 L567.23,414.72 L567.26,415.74 L567.29,416.77 L567.33,417.79 L567.36,418.82 L567.39,419.84 L567.43,420.87 L567.47,421.90 L567.51,422.93 L567.55,423.96 L567.60,424.99 L567.64,426.02 L567.69,427.05 L567.74,428.09 L567.79,429.12 L567.84,430.15 L567.89,431.19 L567.94,432.22 L567.98,433.26 L568.03,434.29 L568.08,435.33 L568.13,436.36 L568.18,437.40 L568.23,438.43 L568.28,439.47 L568.32,440.50 L568.37,441.53 L568.41,442.57 L568.45,443.60 L568.49,444.63 L568.53,445.67 L568.57,446.70 L568.61,447.73 L568.65,448.76 L568.69,449.80 L568.73,450.83 L568.77,451.86 L568.81,452.89 L568.85,453.92 L568.89,454.95 L568.93,455.99 L568.97,457.02 L569.01,458.05 L569.05,459.08 L569.09,460.11 L569.13,461.14 L569.18,462.18 L569.22,463.21 L569.27,464.24 L569.32,465.27 L569.37,466.31 L569.42,467.34 L569.47,468.37 L569.53,469.41 L569.58,470.44 L569.64,471.48 L569.70,472.51 L569.77,473.55 L569.83,474.58 L569.90,475.62 L569.97,476.65 L570.05,477.69 L570.12,478.73 L570.20,479.77 L570.28,480.80 L570.36,481.84 L570.45,482.88 L570.54,483.91 L570.62,484.95 L570.72,485.98 L570.81,487.02 L570.90,488.05 L571.00,489.08 L571.09,490.11 L571.19,491.14 L571.29,492.16 L571.39,493.19 L571.49,494.21 L571.60,495.23 L571.70,496.25 L571.80,497.26 L571.91,498.27 L572.01,499.28 L572.12,500.29 L572.23,501.30 L572.35,502.30 L572.47,503.31 L572.60,504.32 L572.73,505.32 L572.88,506.33 L573.04,507.34 L573.20,508.36 L573.39,509.38 L573.58,510.40 L573.80,511.42 L574.03,512.46 L574.28,513.50 L574.55,514.54 L574.84,515.59 L575.16,516.65 L575.50,517.71 L575.88,518.74 L576.31,519.74 L576.80,520.68 L577.36,521.55 L577.98,522.34 L578.70,523.02 L579.50,523.59 L580.40,524.03 L581.36,524.37 L582.38,524.63 L583.44,524.81 L584.51,524.95 L585.58,525.05 L586.63,525.13 L587.68,525.19 L588.72,525.24 L589.75,525.27 L590.78,525.29 L591.80,525.30 L592.82,525.30 L593.84,525.30 L594.86,525.30 L595.89,525.30 L596.91,525.30 L597.94,525.31 L598.97,525.32 L600.01,525.32 L601.04,525.33 L602.08,525.33 L603.11,525.33 L604.15,525.33 L605.19,525.33 L606.23,525.33 L607.26,525.32 L608.30,525.30 L609.34,525.28 L610.37,525.26 L611.41,525.23 L612.44,525.20 L613.47,525.17 L614.51,525.13 L615.54,525.09 L616.57,525.04 L617.60,525.00 L618.64,524.95 L619.67,524.91 L620.70,524.86 L621.73,524.81 L622.77,524.77 L623.80,524.72 L624.83,524.67 L625.86,524.62 L626.90,524.56 L627.93,524.50 L628.96,524.43 L629.99,524.36 L631.02,524.27 L632.05,524.17 L633.08,524.06 L634.11,523.94 L635.14,523.80 L636.16,523.64 L637.18,523.47 L638.21,523.27 L639.22,523.06 L640.24,522.82 L641.24,522.56 L642.24,522.27 L643.23,521.96 L644.22,521.62 L645.19,521.26 L646.14,520.86 L647.08,520.43 L648.01,519.96 L648.92,519.46 L649.81,518.93 L650.69,518.36 L651.54,517.77 L652.37,517.14 L653.18,516.48 L653.96,515.79 L654.72,515.08 L655.45,514.34 L656.16,513.58 L656.84,512.80 L657.49,511.99 L658.11,511.16 L658.70,510.32 L659.27,509.46 L659.82,508.58 L660.34,507.69 L660.85,506.78 L661.33,505.86 L661.80,504.93 L662.25,504.00 L662.69,503.05 L663.12,502.10 L663.53,501.15 L663.94,500.19 L664.34,499.23 L664.73,498.26 L665.11,497.30 L665.49,496.34 L665.87,495.37 L666.23,494.40 L666.59,493.43 L666.95,492.46 L667.30,491.49 L667.64,490.52 L667.99,489.54 L668.32,488.56 L668.65,487.59 L668.98,486.61 L669.30,485.63 L669.62,484.65 L669.94,483.67 L670.25,482.68 L670.56,481.70 L670.87,480.71 L671.17,479.72 L671.47,478.73 L671.77,477.74 L672.07,476.75 L672.36,475.76 L672.65,474.77 L672.93,473.78 L673.22,472.78 L673.50,471.79 L673.78,470.79 L674.06,469.79 L674.33,468.80 L674.61,467.80 L674.88,466.80 L675.15,465.80 L675.41,464.80 L675.68,463.80 L675.94,462.80 L676.21,461.80 L676.47,460.79 L676.73,459.79 L676.99,458.79 L677.25,457.79 L677.51,456.78 L677.77,455.78 L678.03,454.78 L678.29,453.78 L678.55,452.78 L678.81,451.78 L679.08,450.78 L679.34,449.78 L679.61,448.78 L679.88,447.78 L680.15,446.79 L680.43,445.79 L680.70,444.80 L680.98,443.81 L681.27,442.82 L681.55,441.83 L681.84,440.84 L682.14,439.85 L682.43,438.87 L682.73,437.88 L683.03,436.90 L683.33,435.91 L683.64,434.93 L683.95,433.94 L684.25,432.96 L684.56,431.97 L684.87,430.98 L685.18,430.00 L685.49,429.01 L685.81,428.02 L686.12,427.03 L686.43,426.03 L686.74,425.04 L687.05,424.04 L687.36,423.04 L687.67,422.04 L687.97,421.04 L688.28,420.03 L688.59,419.03 L688.89,418.03 L689.20,417.02 L689.50,416.02 L689.81,415.02 L690.11,414.03 L690.41,413.04 L690.72,412.05 L691.02,411.07 L691.32,410.09 L691.62,409.11 L691.92,408.15 L692.23,407.19 L692.53,406.23 L692.83,405.29 L693.14,404.35 L693.45,403.42 L693.77,402.49 L694.10,401.56 L694.45,400.64 L694.81,399.71 L695.21,398.78 L695.63,397.84 L696.08,396.89 L696.56,395.94 L697.09,394.98 L697.66,394.00 L698.27,393.00 L698.93,392.00 L699.64,391.01 L700.38,390.08 L701.16,389.24 L701.96,388.55 L702.77,388.04 L703.60,387.75 L704.43,387.72 L705.26,387.97 L706.07,388.44 L706.87,389.11 L707.65,389.92 L708.40,390.83 L709.12,391.81 L709.80,392.80 L710.44,393.78 L711.03,394.75 L711.58,395.69 L712.10,396.62 L712.59,397.54 L713.05,398.46 L713.48,399.36 L713.89,400.27 L714.28,401.17 L714.66,402.07 L715.03,402.98 L715.38,403.90 L715.74,404.83 L716.09,405.76 L716.43,406.71 L716.77,407.66 L717.11,408.63 L717.44,409.60 L717.78,410.57 L718.11,411.55 L718.43,412.54 L718.76,413.53 L719.08,414.53 L719.40,415.53 L719.71,416.53 L720.03,417.53 L720.34,418.53 L720.65,419.54 L720.96,420.54 L721.27,421.54 L721.58,422.54 L721.89,423.54 L722.20,424.53 L722.50,425.52 L722.81,426.52 L723.11,427.51 L723.41,428.49 L723.71,429.48 L724.02,430.47 L724.32,431.46 L724.62,432.44 L724.92,433.43 L725.22,434.41 L725.52,435.40 L725.82,436.38 L726.12,437.36 L726.43,438.35 L726.73,439.33 L727.03,440.32 L727.33,441.30 L727.63,442.29 L727.94,443.28 L728.24,444.27 L728.54,445.25 L728.85,446.24 L729.15,447.23 L729.45,448.22 L729.76,449.21 L730.06,450.19 L730.37,451.18 L730.67,452.17 L730.98,453.16 L731.28,454.15 L731.59,455.14 L731.90,456.13 L732.20,457.12 L732.51,458.11 L732.82,459.09 L733.12,460.08 L733.43,461.07 L733.74,462.06 L734.04,463.05 L734.35,464.03 L734.65,465.02 L734.96,466.01 L735.27,467.00 L735.57,467.98 L735.87,468.97 L736.18,469.96 L736.48,470.95 L736.78,471.94 L737.08,472.93 L737.38,473.92 L737.68,474.91 L737.97,475.90 L738.27,476.89 L738.56,477.88 L738.85,478.87 L739.14,479.86 L739.43,480.86 L739.72,481.85 L740.01,482.84 L740.29,483.84 L740.58,484.83 L740.86,485.82 L741.15,486.82 L741.43,487.81 L741.72,488.81 L742.00,489.80" fill="none" stroke="#00f000" stroke-width="2.75" stroke-linejoin="round"/>
</svg></body></html>
